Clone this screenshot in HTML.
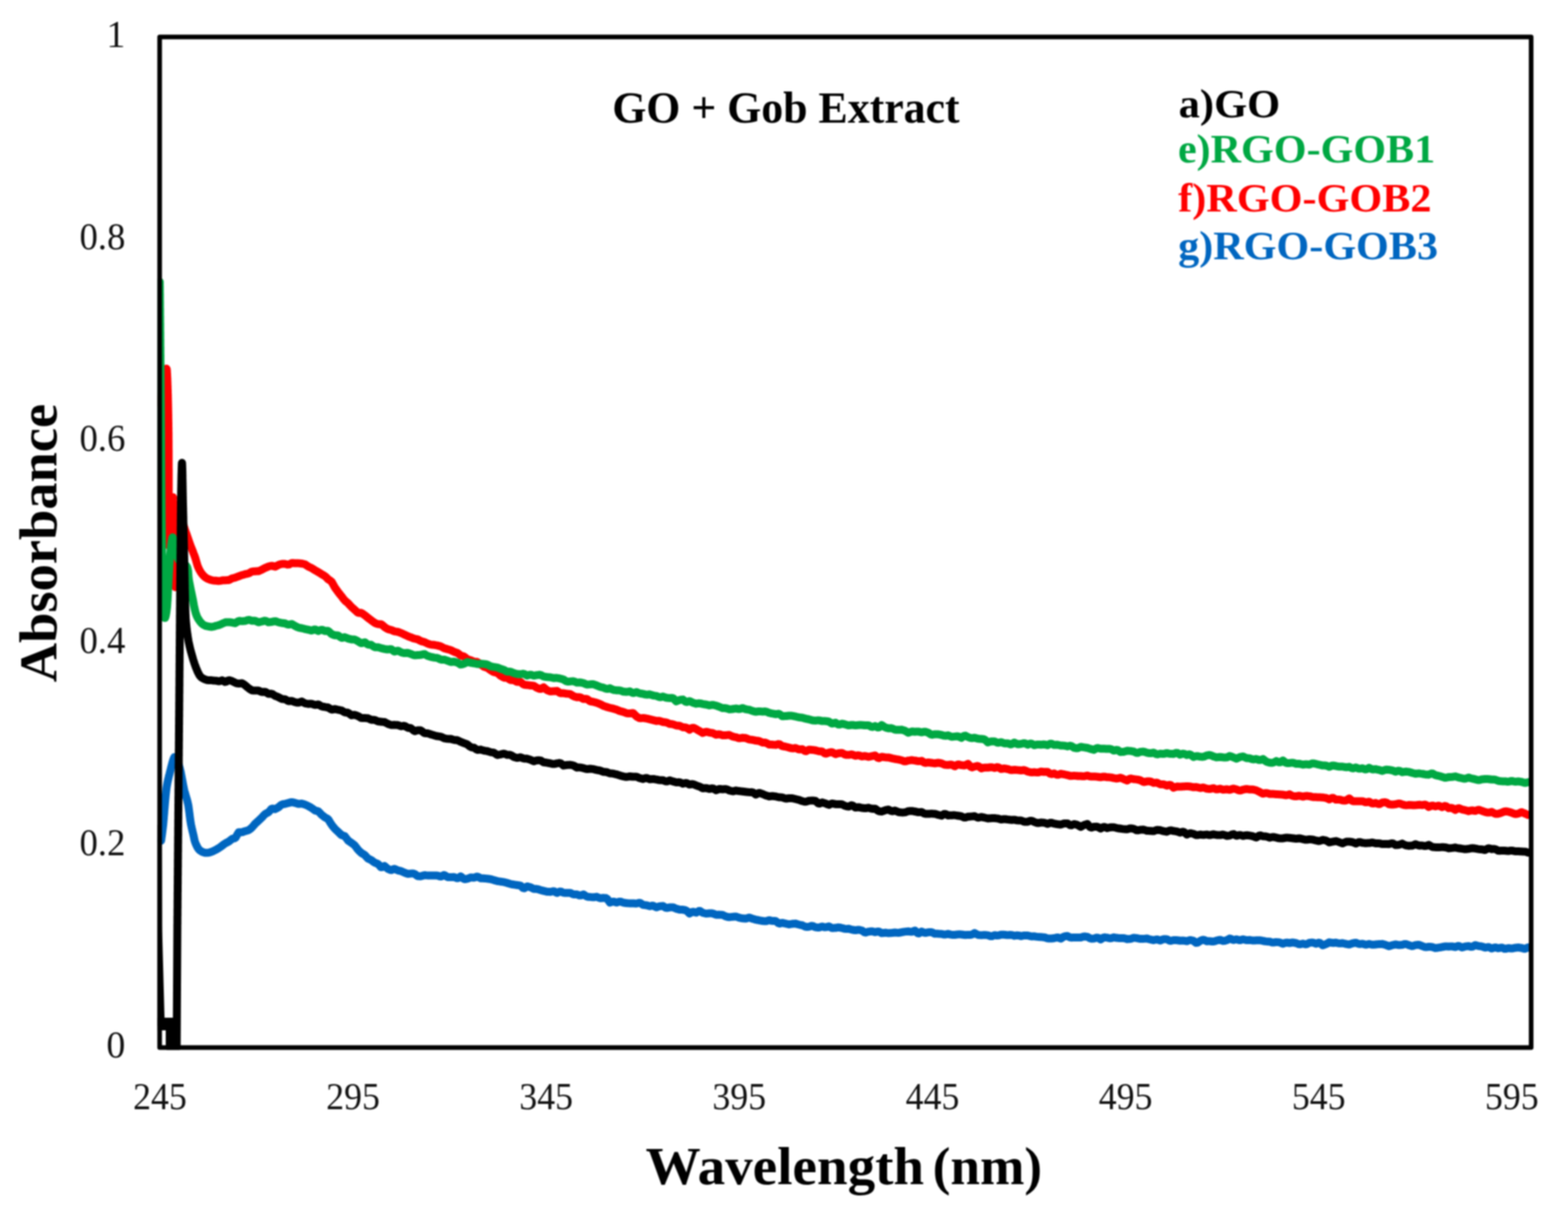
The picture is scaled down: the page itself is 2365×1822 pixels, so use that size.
<!DOCTYPE html>
<html><head><meta charset="utf-8"><title>GO + Gob Extract</title><style>html,body{margin:0;padding:0;background:#fff;}svg{display:block;filter:blur(0.9px);}</style></head><body>
<svg width="2365" height="1822" viewBox="0 0 2365 1822">
<rect width="2365" height="1822" fill="#fff"/>
<defs><clipPath id="pc"><rect x="237.7" y="40" width="2071" height="1543.5"/></clipPath></defs>
<g clip-path="url(#pc)" fill="none" stroke-width="12" stroke-linejoin="round" stroke-linecap="round">
<path d="M242.0 610.0L242.1 608.9 242.3 607.5 242.4 606.0 242.6 604.2 242.8 602.3 243.0 600.2 243.2 598.0 243.5 595.8 243.7 593.4 244.0 591.0 244.2 588.6 244.5 586.1 244.7 583.7 245.0 581.3 245.3 578.9 245.5 576.7 245.8 574.5 246.1 572.5 246.3 570.6 246.5 568.9 246.8 567.3 247.0 566.0 247.7 563.2 248.8 560.0 250.0 557.3 251.0 556.0 251.5 557.0 251.6 557.9 251.7 559.0 251.8 560.1 251.8 561.3 251.9 562.6 252.0 563.9 252.1 565.4 252.1 566.9 252.2 568.4 252.3 570.1 252.4 571.8 252.4 573.5 252.5 575.4 252.6 577.3 252.6 579.2 252.7 581.2 252.8 583.2 252.8 585.3 252.9 587.4 253.0 589.6 253.0 591.8 253.1 594.0 253.2 596.3 253.2 598.6 253.3 600.9 253.3 603.3 253.4 605.7 253.4 608.1 253.5 610.5 253.5 612.9 253.6 615.4 253.6 617.8 253.7 620.3 253.7 622.8 253.8 625.2 253.8 627.7 253.8 630.2 253.9 632.7 253.9 635.1 254.0 637.6 254.0 640.0 254.0 641.7 254.0 643.5 254.1 645.2 254.1 647.0 254.1 648.9 254.1 650.8 254.2 652.7 254.2 654.6 254.2 656.5 254.2 658.5 254.2 660.5 254.2 662.6 254.3 664.6 254.3 666.7 254.3 668.8 254.3 670.9 254.3 673.0 254.3 675.1 254.3 677.3 254.4 679.4 254.4 681.6 254.4 683.7 254.4 685.9 254.4 688.1 254.4 690.3 254.4 692.5 254.4 694.7 254.4 696.9 254.4 699.1 254.4 701.3 254.4 703.5 254.4 705.7 254.5 707.9 254.5 710.1 254.5 712.2 254.5 714.4 254.5 716.6 254.5 718.7 254.5 720.8 254.5 722.9 254.5 725.0 254.5 727.1 254.5 729.2 254.5 731.2 254.5 733.2 254.5 735.2 254.5 737.2 254.5 739.1 254.5 741.0 254.5 742.9 254.5 744.8 254.5 746.6 254.5 748.4 254.5 750.2 254.5 751.9 254.5 753.6 254.5 755.3 254.5 756.9 254.5 758.5 254.5 760.0 254.5 762.4 254.5 764.9 254.5 767.4 254.5 769.9 254.4 772.4 254.4 775.0 254.4 777.5 254.4 780.1 254.3 782.6 254.3 785.1 254.3 787.6 254.2 790.1 254.2 792.6 254.1 794.9 254.1 797.3 254.1 799.6 254.0 801.8 254.0 803.9 254.0 806.0 254.0 807.9 253.9 809.8 253.9 811.6 253.9 813.3 253.9 814.9 253.9 816.3 253.9 817.6 253.9 818.8 253.9 819.8 253.9 820.7 254.0 821.4 254.0 822.0 254.1 822.6 254.2 822.6 254.3 821.9 254.5 820.8 254.6 819.2 254.8 817.2 255.0 814.9 255.2 812.4 255.4 809.6 255.6 806.7 255.9 803.7 256.1 800.8 256.3 797.8 256.6 795.0 256.8 792.4 257.0 790.0 257.2 788.1 257.4 785.9 257.6 783.6 257.8 781.1 258.0 778.5 258.2 775.8 258.4 773.0 258.6 770.3 258.8 767.5 259.0 764.9 259.2 762.3 259.5 759.9 259.7 757.7 259.9 755.6 260.1 753.9 260.3 752.4 260.5 751.2 260.7 750.4 260.8 750.0 261.0 750.0 261.1 750.3 261.3 750.9 261.4 751.7 261.5 752.7 261.6 753.9 261.7 755.3 261.9 756.9 262.0 758.6 262.1 760.5 262.2 762.6 262.3 764.7 262.4 767.0 262.5 769.3 262.6 771.7 262.7 774.2 262.8 776.8 262.9 779.4 263.0 782.0 263.1 784.6 263.1 787.3 263.2 789.9 263.3 792.5 263.4 795.1 263.4 797.6 263.5 800.0 263.5 801.7 263.6 803.4 263.6 805.3 263.6 807.3 263.7 809.3 263.7 811.4 263.7 813.6 263.7 815.9 263.8 818.2 263.8 820.6 263.8 823.1 263.8 825.5 263.8 828.0 263.9 830.6 263.9 833.1 263.9 835.7 263.9 838.2 263.9 840.8 263.9 843.4 263.9 845.9 263.9 848.4 263.9 850.9 264.0 853.4 264.0 855.8 264.0 858.2 264.0 860.5 264.0 862.8 264.0 865.0 264.1 867.1 264.1 869.2 264.1 871.1 264.1 873.0 264.1 874.8 264.2 876.4 264.2 878.0 264.2 879.4 264.3 880.7 264.3 881.8 264.4 882.8 264.4 883.7 264.4 884.4 264.5 885.0 264.6 885.7 264.7 885.8 264.8 885.5 265.0 884.8 265.1 883.7 265.2 882.2 265.3 880.5 265.5 878.4 265.6 876.1 265.8 873.6 265.9 870.9 266.1 868.1 266.3 865.2 266.4 862.2 266.6 859.2 266.8 856.1 267.0 853.2 267.2 850.2 267.4 847.4 267.6 844.8 267.8 842.3 268.0 840.0 268.2 838.0 268.4 836.0 268.6 833.8 268.8 831.6 269.0 829.3 269.3 827.0 269.5 824.6 269.7 822.2 270.0 819.8 270.2 817.4 270.5 815.0 270.7 812.6 271.0 810.3 271.2 808.0 271.5 805.8 271.7 803.6 272.0 801.6 272.2 799.6 272.5 797.8 272.8 796.1 273.0 794.6 273.3 793.2 273.5 791.9 273.8 790.9 274.0 790.0 274.9 788.8 275.8 789.7 276.8 792.2 277.9 795.5 279.0 799.0 280.0 802.0 280.7 803.7 281.3 805.5 282.0 807.5 282.7 809.5 283.4 811.6 284.2 813.8 284.9 815.9 285.6 818.0 286.3 820.0 287.0 822.0 287.8 824.1 288.6 826.1 289.4 828.1 290.2 830.1 291.0 832.1 291.7 834.1 292.5 836.0 293.3 838.0 294.0 840.0 294.7 842.0 295.3 844.1 295.9 846.2 296.5 848.3 297.1 850.3 297.7 852.4 298.4 854.3 299.2 856.2 300.0 858.0 301.0 859.9 302.1 861.8 303.2 863.6 304.4 865.3 305.7 866.9 307.1 868.4 308.5 869.8 310.0 871.0 311.9 872.2 313.8 873.2 315.9 874.0 318.1 874.7 320.4 875.3 322.7 875.7 325.0 875.8 327.0 876.0 329.1 876.2 331.1 876.2 333.2 875.8 335.4 875.3 337.6 875.3 340.0 875.2 342.5 875.1 344.2 875.1 345.9 874.5 347.8 873.6 349.6 872.5 351.6 872.0 353.5 871.5 355.5 870.9 357.5 870.2 359.6 869.4 361.6 868.6 363.6 867.9 365.6 867.2 367.5 866.7 369.4 866.1 371.3 865.7 373.3 865.3 375.2 864.8 377.1 863.7 379.0 862.5 381.0 861.9 382.9 861.8 384.8 861.7 386.7 861.6 388.7 861.6 390.6 861.3 392.5 860.3 394.6 859.3 396.6 858.3 398.6 857.2 400.6 856.3 402.7 855.4 404.7 854.5 406.7 854.0 408.8 853.5 410.9 853.5 413.0 854.2 415.2 854.7 417.5 853.5 419.4 852.4 421.3 851.7 423.3 851.0 425.4 850.5 427.5 850.5 429.6 850.5 431.7 851.0 433.9 851.6 436.0 851.4 438.1 850.3 440.1 849.2 442.1 849.3 444.0 849.5 445.8 849.5 447.5 849.5 449.9 849.6 452.2 849.7 454.3 850.0 456.3 850.3 458.3 850.8 460.2 851.3 462.0 852.5 463.8 853.7 465.6 854.8 467.5 855.7 469.6 856.6 471.6 857.8 473.6 859.1 475.6 860.3 477.5 861.4 479.4 862.5 481.3 863.6 483.2 864.8 485.0 866.0 486.8 867.0 488.5 868.0 490.1 869.0 491.8 870.5 493.4 872.1 495.0 873.8 496.6 874.7 498.3 875.9 500.0 877.2 501.1 879.0 502.2 880.9 503.3 882.9 504.4 885.0 505.6 886.9 506.7 888.4 507.9 890.0 509.0 891.6 510.2 893.2 511.4 894.7 512.6 896.3 513.8 897.8 515.0 899.2 516.3 900.9 517.5 902.6 519.0 904.4 520.5 906.1 522.0 907.4 523.6 908.7 525.1 909.9 526.7 911.7 528.3 913.5 529.9 915.2 531.4 916.6 533.0 917.9 534.5 919.3 536.0 920.7 537.5 922.0 539.3 923.8 541.0 924.4 542.7 924.4 544.3 924.3 545.9 925.0 547.6 926.1 549.3 927.3 551.1 928.6 553.0 930.3 555.0 931.9 556.6 933.1 558.2 934.3 559.9 935.6 561.6 936.8 563.4 938.1 565.2 939.4 567.0 940.2 568.9 941.0 570.8 941.4 572.6 941.4 574.5 941.4 576.4 942.6 578.2 944.2 580.0 945.7 581.9 947.0 583.8 948.2 585.8 949.2 587.7 949.6 589.6 950.0 591.5 950.8 593.5 951.7 595.4 952.4 597.3 952.6 599.2 952.9 601.2 953.4 603.1 954.1 605.0 954.8 606.9 955.7 608.8 956.6 610.8 957.5 612.7 958.4 614.6 959.3 616.5 960.1 618.5 960.8 620.4 961.5 622.3 962.3 624.2 963.0 626.2 963.5 628.1 963.9 630.0 964.3 631.9 965.4 633.8 966.4 635.8 967.3 637.7 967.7 639.6 968.2 641.5 969.0 643.5 970.0 645.4 970.9 647.3 971.5 649.2 972.1 651.2 972.4 653.1 972.5 655.0 972.7 656.9 973.1 658.8 973.4 660.8 973.9 662.7 974.4 664.6 974.9 666.5 975.8 668.5 976.9 670.4 977.9 672.3 978.4 674.2 978.9 676.2 979.5 678.1 980.0 680.0 980.6 681.9 981.6 683.9 982.6 685.9 983.5 687.9 984.2 689.8 984.8 691.8 986.3 693.8 987.9 695.7 989.0 697.7 989.5 699.6 990.0 701.4 991.3 703.2 992.9 705.0 994.3 707.2 995.0 709.4 995.5 711.4 996.4 713.5 997.3 715.5 998.1 717.4 998.2 719.3 998.3 721.2 999.3 723.1 1000.7 725.0 1002.2 726.8 1003.4 728.5 1004.6 730.2 1005.8 731.8 1006.2 733.4 1006.7 735.0 1007.1 736.7 1008.4 738.5 1009.8 740.4 1011.1 742.5 1012.4 743.9 1013.2 745.4 1013.9 747.0 1014.2 748.6 1014.5 750.2 1015.0 751.9 1016.4 753.6 1018.0 755.4 1019.4 757.2 1020.5 759.1 1021.6 761.0 1022.2 763.0 1022.3 765.1 1022.5 767.1 1023.9 769.3 1025.3 771.5 1025.8 773.7 1025.8 776.0 1026.3 777.7 1027.4 779.4 1028.4 781.2 1028.6 783.1 1028.5 784.9 1028.4 786.9 1030.0 788.8 1031.7 790.8 1032.8 792.8 1033.0 794.8 1033.2 796.9 1033.4 798.9 1033.7 801.0 1034.0 803.1 1034.1 805.2 1034.4 807.3 1035.8 809.4 1037.2 811.5 1038.2 813.6 1039.0 815.7 1039.1 817.8 1037.8 819.9 1036.6 822.0 1038.3 824.0 1040.2 826.0 1041.4 828.0 1042.1 830.0 1042.8 832.0 1042.7 834.0 1042.6 836.0 1042.5 838.0 1042.3 840.0 1042.1 842.0 1043.4 844.0 1044.8 846.0 1045.5 848.0 1045.5 850.0 1045.6 852.0 1045.9 854.0 1046.2 856.0 1046.4 858.0 1046.6 860.0 1046.9 862.0 1048.1 864.0 1049.4 866.0 1050.4 868.0 1051.0 870.0 1051.7 872.0 1051.6 874.0 1051.6 876.0 1052.1 877.9 1053.1 879.8 1054.2 881.8 1054.2 883.7 1054.1 885.6 1054.4 887.5 1055.9 889.5 1057.3 891.4 1058.0 893.3 1058.3 895.2 1058.7 897.2 1059.2 899.1 1059.8 901.0 1060.4 902.9 1061.1 904.8 1061.8 906.8 1062.8 908.7 1063.9 910.6 1064.8 912.5 1065.4 914.5 1066.1 916.4 1066.6 918.3 1067.2 920.2 1067.7 922.2 1068.2 924.1 1068.6 926.0 1069.1 927.9 1069.7 929.8 1070.3 931.8 1071.1 933.7 1072.0 935.6 1072.7 937.5 1073.1 939.5 1073.6 941.4 1074.2 943.3 1075.0 945.2 1075.8 947.2 1075.9 949.1 1076.1 951.0 1076.0 952.9 1075.7 954.8 1075.4 956.8 1077.3 958.7 1079.3 960.6 1081.0 962.5 1082.1 964.5 1083.1 966.4 1083.3 968.3 1083.1 970.2 1082.9 972.2 1083.2 974.1 1083.5 976.0 1083.9 978.0 1084.4 980.0 1084.9 982.0 1085.4 984.0 1085.9 986.0 1086.4 988.0 1086.9 990.0 1087.4 992.0 1087.3 994.0 1087.3 996.0 1087.6 998.0 1088.3 1000.0 1089.0 1002.0 1089.2 1004.0 1089.4 1006.0 1090.0 1008.0 1090.9 1010.0 1091.9 1012.0 1092.1 1014.0 1092.2 1016.0 1092.7 1018.0 1093.5 1020.0 1094.3 1022.0 1094.4 1024.0 1094.5 1026.0 1095.1 1028.0 1096.0 1030.0 1097.0 1032.0 1097.1 1034.0 1097.2 1036.0 1097.9 1038.0 1099.2 1040.0 1100.6 1042.0 1099.2 1044.0 1097.9 1046.0 1097.7 1048.0 1098.7 1050.0 1099.7 1052.0 1100.9 1054.0 1102.0 1056.0 1103.2 1058.0 1104.3 1060.0 1105.5 1062.0 1104.7 1064.0 1103.9 1066.0 1103.8 1068.0 1104.3 1070.0 1104.9 1072.0 1105.2 1074.0 1105.4 1076.0 1106.1 1078.0 1107.2 1080.0 1108.2 1082.0 1107.8 1084.0 1107.5 1086.0 1107.7 1088.0 1108.4 1090.0 1109.1 1092.0 1109.0 1094.0 1108.9 1096.0 1108.8 1098.0 1108.6 1100.0 1108.5 1102.0 1109.5 1104.0 1110.5 1106.0 1111.2 1108.0 1111.6 1110.0 1111.9 1112.0 1112.6 1114.0 1113.3 1116.0 1113.4 1118.0 1113.1 1120.0 1112.8 1122.0 1113.0 1124.0 1113.1 1126.0 1113.6 1128.0 1114.5 1130.0 1115.4 1132.0 1115.6 1134.0 1115.8 1136.0 1116.2 1138.0 1116.6 1140.0 1117.0 1142.0 1117.2 1144.0 1117.5 1146.0 1118.1 1148.0 1119.0 1150.0 1120.0 1152.0 1120.1 1154.0 1120.1 1156.0 1120.7 1158.0 1121.8 1160.0 1122.9 1162.0 1123.0 1164.0 1123.0 1166.0 1123.2 1168.0 1123.4 1170.0 1123.6 1172.0 1122.9 1174.0 1122.3 1176.0 1122.7 1178.0 1124.1 1180.0 1125.4 1182.0 1125.7 1184.0 1126.0 1186.0 1126.5 1188.0 1127.0 1190.0 1127.6 1192.0 1128.1 1194.0 1128.6 1196.0 1128.7 1198.0 1128.5 1200.0 1128.2 1202.0 1129.1 1204.0 1130.0 1206.0 1130.4 1208.0 1130.1 1210.0 1129.9 1212.0 1131.3 1214.0 1132.8 1216.0 1132.9 1218.0 1131.8 1220.0 1130.7 1222.0 1130.8 1224.0 1130.9 1226.0 1131.1 1228.0 1131.4 1230.0 1131.7 1232.0 1132.3 1234.0 1132.8 1236.1 1133.2 1238.1 1133.3 1240.1 1133.5 1242.1 1135.0 1244.2 1136.6 1246.2 1136.7 1248.2 1135.9 1250.2 1135.1 1252.3 1134.8 1254.3 1134.5 1256.3 1135.2 1258.3 1136.4 1260.3 1137.4 1262.3 1136.8 1264.3 1136.2 1266.3 1135.9 1268.2 1135.8 1270.2 1135.8 1272.1 1136.8 1274.1 1137.9 1276.0 1138.4 1278.1 1138.5 1280.1 1138.5 1282.2 1138.2 1284.2 1137.8 1286.2 1138.3 1288.2 1139.2 1290.2 1140.0 1292.1 1139.6 1294.1 1139.2 1296.1 1139.4 1298.0 1140.2 1300.0 1141.0 1301.9 1140.6 1303.9 1140.3 1305.9 1140.4 1307.8 1141.0 1309.8 1141.6 1311.8 1141.2 1313.8 1140.7 1315.8 1140.3 1317.9 1139.9 1319.9 1139.5 1322.0 1141.3 1323.9 1143.0 1325.9 1143.5 1327.8 1142.5 1329.8 1141.4 1331.7 1141.7 1333.7 1142.1 1335.7 1142.3 1337.7 1142.4 1339.7 1142.4 1341.7 1142.9 1343.7 1143.4 1345.7 1143.9 1347.8 1144.3 1349.8 1144.8 1351.8 1145.1 1353.8 1145.4 1355.9 1145.7 1357.9 1146.2 1359.9 1146.7 1361.9 1147.5 1364.0 1148.2 1366.0 1148.3 1368.0 1147.7 1370.0 1147.1 1372.0 1146.9 1374.0 1146.6 1376.0 1146.6 1378.0 1146.9 1380.0 1147.1 1382.0 1147.5 1384.0 1148.0 1386.0 1148.1 1388.0 1147.9 1390.0 1147.6 1392.0 1148.9 1394.0 1150.2 1396.0 1150.7 1398.0 1150.3 1400.0 1149.9 1402.0 1150.2 1404.0 1150.5 1406.0 1150.8 1408.0 1151.1 1410.0 1151.4 1412.0 1151.0 1414.0 1150.6 1416.0 1150.6 1418.0 1151.0 1420.0 1151.4 1422.0 1152.2 1424.0 1153.1 1426.0 1153.6 1428.0 1153.7 1430.0 1153.8 1432.0 1153.5 1434.0 1153.2 1436.0 1153.6 1438.0 1154.7 1440.0 1155.8 1442.0 1154.6 1444.0 1153.4 1446.0 1153.0 1448.0 1153.6 1450.0 1154.1 1452.0 1154.3 1454.0 1154.5 1456.0 1154.1 1458.0 1153.1 1460.0 1152.1 1462.0 1154.3 1464.0 1156.5 1466.0 1157.4 1468.0 1156.8 1470.0 1156.3 1472.0 1155.8 1474.0 1155.3 1476.0 1155.8 1478.0 1157.3 1480.0 1158.9 1482.0 1158.4 1484.0 1157.9 1486.0 1157.7 1488.0 1157.7 1490.0 1157.8 1492.0 1157.5 1494.0 1157.2 1496.0 1157.3 1498.0 1157.8 1500.0 1158.3 1502.0 1157.7 1504.0 1157.1 1506.0 1157.5 1508.0 1158.6 1510.0 1159.8 1512.0 1159.5 1514.0 1159.1 1516.0 1159.2 1518.0 1159.6 1520.0 1160.0 1522.0 1160.6 1524.0 1161.3 1526.0 1161.5 1528.0 1161.3 1530.0 1161.1 1532.0 1161.2 1534.0 1161.4 1536.0 1161.6 1538.0 1161.8 1540.0 1162.0 1542.0 1161.8 1544.0 1161.5 1546.0 1161.9 1548.0 1162.8 1550.0 1163.7 1552.0 1164.2 1554.0 1164.7 1556.0 1164.9 1558.0 1164.8 1560.0 1164.6 1562.0 1164.9 1564.0 1165.1 1566.0 1165.0 1568.0 1164.4 1570.0 1163.8 1572.0 1164.0 1574.0 1164.2 1576.0 1164.3 1578.0 1164.3 1580.0 1164.2 1582.0 1165.6 1584.0 1167.0 1586.0 1167.5 1588.0 1167.1 1590.0 1166.6 1592.0 1167.6 1594.0 1168.5 1596.0 1168.6 1598.0 1167.9 1600.0 1167.1 1602.0 1167.5 1604.0 1167.8 1606.0 1168.2 1608.0 1168.7 1610.0 1169.1 1612.0 1169.6 1614.0 1170.2 1616.0 1170.3 1618.0 1170.1 1620.0 1169.9 1622.0 1170.1 1624.0 1170.3 1626.0 1170.5 1628.0 1170.5 1630.0 1170.5 1632.0 1170.7 1634.0 1170.9 1636.0 1170.7 1638.0 1170.2 1640.0 1169.8 1642.0 1170.4 1644.0 1171.0 1646.0 1171.2 1648.0 1171.2 1650.0 1171.2 1652.0 1171.3 1654.0 1171.4 1656.0 1171.7 1658.0 1172.0 1660.0 1172.3 1662.0 1171.9 1664.0 1171.5 1666.0 1171.5 1668.0 1171.9 1670.0 1172.3 1672.0 1172.3 1674.0 1172.4 1676.0 1172.6 1678.0 1173.1 1680.0 1173.6 1682.0 1173.9 1684.0 1174.3 1686.0 1174.1 1688.0 1173.5 1690.0 1173.0 1692.0 1173.8 1694.0 1174.7 1696.0 1175.6 1698.0 1176.4 1700.0 1177.3 1702.0 1175.9 1704.0 1174.6 1706.0 1174.2 1708.0 1174.7 1710.0 1175.2 1712.0 1175.4 1714.0 1175.6 1716.0 1175.9 1718.0 1176.4 1720.0 1176.9 1722.0 1178.0 1724.0 1179.1 1726.0 1179.5 1728.0 1179.0 1730.0 1178.6 1732.0 1178.6 1734.0 1178.6 1736.0 1179.0 1738.0 1179.9 1740.0 1180.8 1742.0 1180.6 1744.0 1180.4 1746.0 1180.9 1748.0 1182.0 1750.0 1183.0 1752.0 1183.0 1754.0 1183.0 1756.0 1183.3 1758.0 1184.1 1760.0 1184.9 1762.0 1184.3 1764.0 1183.7 1766.0 1184.3 1768.0 1186.2 1770.0 1188.1 1772.0 1187.4 1774.0 1186.6 1776.0 1186.3 1778.0 1186.4 1780.0 1186.6 1782.0 1186.5 1784.1 1186.3 1786.1 1186.2 1788.1 1186.1 1790.1 1186.0 1792.1 1186.1 1794.2 1186.2 1796.2 1186.5 1798.2 1187.0 1800.2 1187.4 1802.2 1187.2 1804.2 1187.1 1806.2 1187.4 1808.2 1188.0 1810.2 1188.5 1812.2 1188.2 1814.2 1187.8 1816.1 1188.1 1818.1 1188.8 1820.1 1189.6 1822.0 1189.8 1824.1 1190.1 1826.2 1189.8 1828.3 1189.2 1830.3 1188.8 1832.4 1189.7 1834.4 1190.6 1836.4 1190.5 1838.5 1189.9 1840.5 1189.6 1842.5 1190.3 1844.5 1190.9 1846.5 1190.9 1848.5 1190.6 1850.5 1190.5 1852.5 1190.9 1854.6 1191.3 1856.6 1190.7 1858.6 1189.8 1860.7 1189.4 1862.7 1190.0 1864.8 1190.5 1866.9 1191.4 1869.0 1192.3 1870.9 1192.3 1872.9 1191.7 1874.9 1191.0 1876.8 1190.6 1878.8 1190.2 1880.8 1190.1 1882.8 1190.4 1884.8 1190.7 1886.8 1190.8 1888.8 1190.8 1890.8 1191.0 1892.8 1191.5 1894.8 1192.0 1896.8 1193.0 1898.9 1194.0 1900.9 1195.1 1902.9 1196.1 1904.9 1197.1 1906.9 1196.7 1909.0 1196.2 1911.0 1196.3 1913.0 1196.8 1915.0 1197.4 1917.0 1197.5 1919.0 1197.5 1921.0 1197.6 1923.0 1197.8 1925.0 1198.1 1927.0 1198.1 1929.0 1198.2 1931.0 1198.3 1933.0 1198.5 1935.0 1198.6 1937.0 1199.0 1939.0 1199.4 1941.0 1199.3 1943.0 1198.7 1945.0 1198.1 1947.0 1199.2 1949.0 1200.3 1951.0 1200.8 1953.0 1200.9 1955.0 1201.0 1957.0 1200.6 1959.0 1200.3 1961.0 1200.4 1963.0 1201.0 1965.0 1201.6 1967.0 1201.1 1969.0 1200.6 1971.0 1200.4 1973.0 1200.7 1975.0 1200.9 1977.0 1201.4 1979.0 1201.9 1981.0 1202.2 1983.0 1202.3 1985.0 1202.3 1987.0 1202.4 1989.0 1202.5 1991.0 1202.6 1993.0 1202.7 1995.0 1202.8 1997.0 1203.1 1999.0 1203.4 2001.0 1203.9 2003.0 1204.8 2005.0 1205.7 2007.0 1204.6 2009.0 1203.5 2011.0 1203.6 2013.0 1204.8 2015.0 1206.0 2017.0 1205.9 2019.0 1205.9 2021.0 1206.1 2023.0 1206.7 2025.0 1207.3 2027.0 1207.4 2029.0 1207.5 2031.0 1206.9 2033.0 1205.6 2035.0 1204.3 2037.0 1205.9 2039.0 1207.6 2041.0 1208.4 2043.0 1208.5 2045.0 1208.5 2047.0 1208.5 2049.0 1208.5 2051.0 1208.5 2053.0 1208.5 2055.0 1208.4 2057.0 1209.1 2059.0 1209.9 2061.0 1210.0 2063.0 1209.6 2065.0 1209.2 2067.0 1210.4 2069.0 1211.5 2071.0 1211.9 2073.0 1211.5 2075.0 1211.1 2077.0 1212.0 2079.0 1212.8 2081.0 1212.7 2083.0 1211.6 2085.0 1210.5 2087.0 1210.2 2089.0 1210.0 2091.0 1210.5 2093.0 1211.7 2095.0 1213.0 2097.0 1213.2 2099.0 1213.5 2101.0 1213.5 2103.0 1213.3 2105.0 1213.1 2107.0 1212.5 2109.0 1212.0 2111.0 1212.0 2113.0 1212.6 2115.0 1213.3 2117.0 1213.9 2119.0 1214.4 2121.0 1214.6 2123.0 1214.4 2125.0 1214.1 2127.0 1214.2 2129.0 1214.3 2131.0 1214.4 2133.0 1214.4 2135.0 1214.4 2137.0 1214.2 2139.0 1213.9 2141.0 1213.8 2143.0 1214.1 2145.0 1214.3 2147.0 1213.9 2149.0 1213.6 2151.0 1214.2 2153.0 1215.6 2155.0 1217.1 2157.0 1216.2 2159.0 1215.3 2161.0 1215.1 2163.0 1215.7 2165.0 1216.2 2167.0 1215.7 2169.0 1215.2 2171.0 1215.5 2173.0 1216.5 2175.0 1217.5 2177.0 1216.5 2179.0 1215.6 2181.0 1215.9 2183.0 1217.4 2185.0 1218.9 2187.0 1218.7 2189.0 1218.6 2191.0 1219.1 2193.0 1220.4 2195.0 1221.6 2197.0 1220.4 2199.0 1219.2 2201.0 1219.1 2203.0 1220.0 2205.0 1220.9 2207.0 1221.3 2209.0 1221.7 2211.0 1222.2 2213.0 1222.8 2215.0 1223.4 2217.0 1222.9 2219.0 1222.4 2221.0 1222.3 2223.0 1222.8 2225.1 1223.1 2227.1 1222.3 2229.2 1221.5 2231.3 1221.6 2233.4 1222.4 2235.5 1223.1 2237.5 1223.9 2239.6 1224.6 2241.7 1225.1 2243.8 1225.5 2245.8 1225.6 2247.9 1225.1 2249.9 1224.6 2252.0 1225.7 2254.0 1226.9 2255.9 1227.5 2257.9 1227.4 2259.8 1227.4 2261.7 1226.8 2263.6 1226.2 2265.4 1225.5 2267.2 1224.7 2269.0 1223.9 2271.4 1223.7 2273.9 1224.2 2276.3 1224.7 2278.8 1225.4 2281.3 1226.3 2283.7 1227.4 2286.0 1227.8 2288.4 1227.5 2290.6 1227.0 2292.8 1225.9 2294.9 1224.9 2296.9 1225.7 2298.8 1226.5 2300.5 1227.3 2302.1 1228.0 2303.6 1228.6 2304.9 1229.2 2306.0 1228.8" stroke="#ff0000"/>
<path d="M243.0 1268.0L243.2 1266.8 243.4 1265.3 243.6 1263.6 243.9 1261.7 244.2 1259.6 244.5 1257.4 244.8 1255.0 245.1 1252.6 245.4 1250.1 245.7 1247.5 246.0 1245.0 246.2 1243.5 246.3 1241.9 246.5 1240.1 246.6 1238.3 246.8 1236.4 247.0 1234.4 247.1 1232.3 247.3 1230.2 247.5 1228.0 247.7 1225.8 247.8 1223.6 248.0 1221.3 248.2 1219.0 248.4 1216.7 248.6 1214.3 248.8 1212.0 249.0 1209.8 249.2 1207.5 249.4 1205.3 249.6 1203.1 249.8 1201.0 250.0 1199.0 250.2 1197.0 250.4 1195.1 250.6 1193.3 250.8 1191.6 251.0 1190.0 251.3 1187.6 251.7 1185.3 252.1 1183.1 252.5 1180.9 252.9 1178.8 253.4 1176.7 253.8 1174.7 254.3 1172.8 254.7 1170.9 255.2 1169.1 255.7 1167.3 256.1 1165.5 256.6 1163.7 257.0 1162.0 257.6 1159.6 258.2 1157.1 258.9 1154.7 259.5 1152.3 260.1 1150.0 260.7 1147.9 261.3 1146.0 261.9 1144.3 262.5 1143.0 263.0 1142.0 265.1 1142.5 267.0 1146.0 267.6 1147.4 268.2 1149.0 268.8 1150.8 269.5 1152.8 270.1 1155.0 270.8 1157.2 271.4 1159.6 272.0 1162.0 272.4 1163.6 272.8 1165.4 273.1 1167.3 273.5 1169.3 273.9 1171.3 274.3 1173.4 274.7 1175.6 275.1 1177.7 275.5 1179.9 275.9 1182.0 276.3 1184.1 276.7 1186.2 277.1 1188.1 277.5 1190.0 278.0 1192.3 278.6 1194.4 279.2 1196.5 279.8 1198.6 280.4 1200.6 281.0 1202.6 281.6 1204.6 282.2 1206.6 282.7 1208.6 283.2 1210.8 283.7 1213.0 284.1 1215.0 284.4 1217.0 284.7 1219.1 285.0 1221.3 285.3 1223.5 285.6 1225.7 285.9 1227.9 286.1 1230.1 286.4 1232.2 286.7 1234.3 286.9 1236.3 287.2 1238.2 287.5 1240.0 287.9 1242.4 288.3 1244.6 288.8 1246.7 289.2 1248.7 289.7 1250.7 290.1 1252.6 290.5 1254.4 291.0 1256.2 291.4 1258.0 291.9 1260.2 292.4 1262.4 292.8 1264.4 293.2 1266.4 293.7 1268.3 294.3 1270.2 295.0 1272.0 295.9 1274.1 296.9 1276.2 297.9 1278.2 299.1 1280.0 300.4 1281.7 302.0 1283.0 303.8 1284.1 305.7 1285.1 307.8 1285.8 310.1 1286.3 312.5 1286.3 315.0 1286.0 316.5 1285.6 318.2 1285.0 320.0 1284.4 321.8 1283.6 323.7 1282.7 325.7 1281.7 327.6 1280.5 329.6 1279.3 331.7 1278.0 333.6 1276.6 335.6 1275.1 337.5 1273.7 339.1 1272.5 340.7 1271.5 342.4 1270.7 344.0 1269.9 345.6 1268.9 347.3 1267.6 348.9 1266.2 350.5 1265.1 352.1 1264.7 353.8 1264.3 355.3 1263.4 356.9 1260.6 358.5 1257.9 360.0 1255.3 361.9 1255.2 363.8 1255.3 365.6 1255.1 367.5 1254.3 369.3 1253.7 371.0 1253.2 372.8 1252.7 374.6 1252.2 376.4 1251.1 378.2 1249.7 380.0 1248.1 381.5 1246.4 383.1 1244.6 384.6 1242.6 386.2 1241.2 387.7 1239.9 389.2 1238.5 390.8 1237.1 392.3 1235.6 393.8 1234.2 395.4 1232.7 396.9 1230.9 398.5 1229.2 400.0 1227.7 401.8 1226.7 403.7 1225.8 405.6 1224.5 407.5 1222.2 409.4 1220.0 411.2 1219.5 413.1 1219.9 414.9 1220.4 416.7 1219.5 418.4 1218.5 420.0 1217.6 422.3 1215.6 424.4 1213.8 426.5 1213.0 428.4 1212.7 430.5 1212.4 432.6 1211.7 435.0 1211.1 436.8 1210.6 438.7 1210.1 440.6 1210.0 442.6 1210.4 444.7 1210.9 446.8 1211.5 448.8 1212.2 450.9 1212.5 453.0 1212.2 455.0 1212.1 457.0 1212.6 459.0 1213.2 461.1 1214.0 463.1 1214.9 465.2 1215.9 467.2 1217.0 469.2 1218.2 471.2 1219.5 473.1 1220.9 475.0 1222.4 476.7 1222.8 478.4 1223.2 480.1 1223.7 481.8 1225.4 483.4 1227.1 485.0 1228.8 486.6 1230.1 488.2 1231.3 489.7 1232.6 491.1 1233.4 492.5 1234.1 494.1 1235.0 495.5 1236.3 496.7 1238.3 497.9 1240.3 499.1 1242.3 500.4 1244.3 501.8 1246.1 503.3 1247.9 505.0 1249.9 506.2 1251.1 507.5 1252.3 508.9 1253.6 510.4 1255.0 511.9 1256.5 513.5 1258.0 515.1 1259.5 516.7 1260.0 518.4 1260.6 520.1 1261.2 521.8 1263.5 523.5 1265.7 525.1 1267.8 526.8 1269.0 528.4 1270.1 530.0 1271.3 531.6 1272.4 533.1 1273.5 534.7 1274.7 536.2 1276.6 537.8 1278.7 539.4 1280.9 540.9 1282.6 542.5 1284.1 544.1 1285.6 545.6 1286.9 547.2 1287.8 548.8 1288.7 550.3 1289.7 551.9 1291.5 553.4 1293.2 555.0 1294.9 556.8 1295.8 558.6 1296.6 560.4 1297.5 562.1 1298.9 563.9 1300.3 565.7 1301.3 567.5 1302.0 569.3 1302.6 571.1 1304.1 572.9 1306.1 574.6 1308.1 576.4 1307.9 578.2 1307.0 580.0 1306.1 582.1 1308.0 584.2 1309.8 586.2 1311.0 588.3 1311.8 590.4 1312.3 592.5 1311.3 594.6 1310.4 596.7 1311.1 598.8 1312.2 600.8 1313.0 602.9 1313.4 605.0 1313.9 607.1 1314.8 609.2 1315.8 611.2 1316.6 613.3 1317.4 615.4 1318.0 617.5 1317.8 619.6 1317.6 621.7 1317.6 623.8 1317.6 625.8 1318.3 627.9 1319.9 630.0 1321.5 632.1 1321.6 634.2 1321.7 636.2 1321.2 638.3 1320.5 640.4 1319.9 642.5 1320.2 644.6 1320.4 646.7 1320.4 648.8 1320.4 650.8 1320.4 652.9 1320.5 655.0 1320.6 657.1 1320.6 659.2 1320.6 661.2 1321.0 663.3 1321.8 665.4 1322.1 667.5 1320.9 669.6 1319.7 671.7 1320.7 673.8 1322.2 675.8 1323.1 677.9 1323.0 680.0 1322.9 682.1 1322.9 684.2 1322.8 686.4 1323.4 688.5 1324.4 690.7 1324.6 692.8 1323.2 694.9 1321.8 697.0 1323.6 699.1 1325.3 701.1 1326.0 703.1 1325.7 705.0 1325.4 707.2 1324.6 709.4 1323.6 711.4 1323.5 713.5 1323.7 715.5 1323.7 717.4 1322.9 719.3 1322.2 721.2 1322.6 723.1 1323.6 725.0 1324.8 727.0 1324.7 728.9 1324.8 730.7 1325.0 732.5 1325.1 734.3 1325.3 736.2 1325.5 738.2 1325.8 740.2 1326.1 742.5 1326.8 744.4 1327.3 746.4 1327.9 748.6 1328.5 750.9 1329.1 753.2 1329.4 755.6 1329.8 757.9 1330.1 760.1 1330.4 762.2 1331.0 764.2 1331.6 766.0 1332.1 767.5 1332.5 769.8 1333.2 771.7 1333.7 773.7 1334.0 776.0 1334.4 777.2 1334.6 778.6 1334.8 780.1 1335.0 781.7 1335.2 783.3 1335.4 785.1 1335.8 787.0 1337.5 788.9 1339.4 790.9 1339.7 793.0 1338.3 795.1 1336.9 797.3 1337.5 799.5 1338.1 801.8 1339.1 804.0 1340.3 806.3 1340.8 808.6 1340.8 810.8 1341.1 813.1 1341.8 815.3 1342.5 817.6 1343.1 819.7 1343.6 821.9 1344.2 824.0 1344.7 826.0 1345.0 828.0 1345.1 830.0 1345.2 832.0 1344.7 834.0 1344.2 836.0 1344.5 838.0 1345.7 840.0 1346.8 842.0 1345.8 844.0 1344.8 846.0 1344.7 848.0 1345.7 850.0 1346.6 852.0 1346.7 854.0 1346.7 856.0 1346.8 858.0 1346.8 860.0 1346.7 862.0 1347.7 864.0 1348.7 866.0 1349.1 868.0 1349.0 870.0 1348.9 872.0 1349.8 874.0 1350.6 876.0 1350.6 878.0 1349.8 880.0 1349.0 882.0 1350.3 884.0 1351.7 886.0 1352.5 888.0 1352.7 890.0 1352.9 892.0 1353.1 894.0 1353.3 896.0 1353.2 898.0 1352.9 900.0 1352.6 902.0 1353.5 904.0 1354.4 906.0 1354.7 908.0 1354.5 910.0 1354.3 912.0 1354.5 914.0 1354.6 916.0 1356.0 918.0 1358.7 920.0 1361.4 922.0 1360.7 924.0 1360.0 926.0 1360.0 928.0 1360.7 930.0 1361.3 932.0 1360.6 934.0 1359.9 936.0 1359.9 938.0 1360.7 940.0 1361.4 942.0 1361.7 944.0 1362.0 946.0 1362.2 948.0 1362.4 950.0 1362.6 952.0 1362.5 954.0 1362.5 956.0 1362.6 958.0 1362.7 960.0 1362.8 962.0 1362.3 964.0 1361.7 966.0 1362.1 968.0 1363.5 970.0 1364.9 972.0 1365.1 974.0 1365.3 976.0 1365.6 978.0 1366.2 980.0 1366.7 982.0 1366.4 984.0 1366.0 986.0 1366.4 988.0 1367.5 990.0 1368.6 992.0 1367.9 994.0 1367.2 996.0 1366.8 998.0 1366.7 1000.0 1366.5 1002.0 1367.8 1004.0 1369.0 1006.0 1369.4 1008.0 1369.0 1010.0 1368.6 1012.0 1368.5 1014.0 1368.5 1016.0 1368.8 1018.0 1369.7 1020.0 1370.6 1022.0 1371.1 1024.0 1371.7 1026.0 1372.0 1028.0 1372.0 1030.0 1372.1 1032.0 1372.5 1034.0 1372.9 1036.0 1374.0 1038.0 1375.9 1040.0 1377.8 1042.0 1376.7 1044.0 1375.5 1046.0 1375.3 1048.0 1375.9 1050.0 1376.5 1052.0 1375.3 1054.0 1374.1 1056.0 1374.1 1058.0 1375.5 1060.0 1376.8 1062.0 1377.3 1064.0 1377.8 1066.0 1377.9 1068.0 1377.7 1070.0 1377.5 1072.0 1377.6 1074.0 1377.6 1076.0 1378.1 1078.0 1378.9 1080.0 1379.7 1082.0 1379.7 1084.0 1379.6 1086.0 1379.7 1088.0 1379.8 1090.0 1379.9 1092.0 1381.0 1094.0 1382.0 1096.0 1382.6 1098.0 1383.0 1100.0 1383.3 1102.0 1383.1 1104.0 1382.9 1106.0 1382.7 1108.0 1382.6 1110.0 1382.5 1112.0 1383.2 1114.0 1383.9 1116.0 1384.4 1118.0 1384.8 1120.0 1385.2 1122.0 1385.3 1124.0 1385.5 1126.0 1385.2 1128.0 1384.6 1130.0 1383.9 1132.0 1384.6 1134.0 1385.4 1136.0 1386.0 1138.0 1386.6 1140.0 1387.1 1142.0 1387.5 1144.0 1387.9 1146.0 1388.3 1148.0 1388.7 1150.0 1389.1 1152.0 1389.2 1154.0 1389.4 1156.0 1389.2 1158.0 1388.6 1160.0 1388.0 1162.0 1388.4 1164.0 1388.9 1166.0 1389.1 1168.0 1389.1 1170.0 1389.2 1172.0 1390.7 1174.0 1392.3 1176.0 1392.9 1178.0 1392.4 1180.0 1392.0 1182.0 1392.4 1184.0 1392.8 1186.0 1393.3 1188.0 1393.7 1190.0 1394.2 1192.0 1393.9 1194.0 1393.6 1196.0 1393.3 1198.0 1393.2 1200.0 1393.1 1202.0 1393.7 1204.0 1394.3 1206.0 1394.8 1208.0 1395.2 1210.0 1395.5 1212.0 1396.5 1214.0 1397.5 1216.0 1397.9 1218.0 1397.9 1220.0 1397.8 1222.0 1397.2 1224.0 1396.5 1226.0 1396.7 1228.0 1397.7 1230.0 1398.6 1232.0 1398.8 1234.0 1399.0 1236.1 1398.7 1238.1 1398.1 1240.1 1397.5 1242.1 1398.1 1244.2 1398.6 1246.2 1398.4 1248.2 1397.8 1250.2 1397.3 1252.3 1398.4 1254.3 1399.5 1256.3 1399.8 1258.3 1399.6 1260.3 1399.5 1262.3 1399.1 1264.3 1398.8 1266.3 1398.9 1268.2 1399.4 1270.2 1399.8 1272.1 1400.4 1274.1 1400.9 1276.0 1401.1 1278.1 1400.9 1280.1 1400.8 1282.2 1401.4 1284.2 1402.0 1286.2 1402.5 1288.2 1402.8 1290.2 1403.1 1292.1 1402.8 1294.1 1402.4 1296.1 1402.5 1298.0 1403.0 1300.0 1403.5 1301.9 1404.8 1303.9 1406.1 1305.9 1406.5 1307.8 1405.9 1309.8 1405.2 1311.8 1405.0 1313.8 1404.7 1315.8 1404.8 1317.9 1405.4 1319.9 1405.9 1322.0 1405.5 1323.9 1404.9 1325.9 1405.2 1327.8 1406.3 1329.8 1407.4 1331.7 1407.2 1333.7 1406.9 1335.7 1406.8 1337.7 1407.1 1339.7 1407.4 1341.7 1407.3 1343.7 1407.2 1345.7 1407.1 1347.8 1406.8 1349.8 1406.5 1351.8 1406.7 1353.8 1406.9 1355.9 1406.9 1357.9 1406.5 1359.9 1406.1 1361.9 1405.7 1364.0 1405.4 1366.0 1405.1 1368.0 1404.9 1370.0 1404.8 1372.0 1405.1 1374.0 1405.4 1376.0 1405.2 1378.0 1404.4 1380.0 1403.6 1382.0 1405.6 1384.0 1407.6 1386.0 1407.9 1388.0 1406.5 1390.0 1405.1 1392.0 1405.9 1394.0 1406.8 1396.0 1407.0 1398.0 1406.6 1400.0 1406.2 1402.0 1406.0 1404.0 1405.9 1406.0 1406.3 1408.0 1407.3 1410.0 1408.3 1412.0 1408.3 1414.0 1408.3 1416.0 1408.4 1418.0 1408.6 1420.0 1408.7 1422.0 1409.1 1424.0 1409.5 1426.0 1409.5 1428.0 1409.0 1430.0 1408.6 1432.0 1409.1 1434.0 1409.6 1436.0 1409.9 1438.0 1410.0 1440.0 1410.1 1442.0 1409.7 1444.0 1409.4 1446.0 1409.3 1448.0 1409.3 1450.0 1409.4 1452.0 1409.7 1454.0 1410.1 1456.0 1410.2 1458.0 1410.1 1460.0 1409.9 1462.0 1409.9 1464.0 1410.0 1466.0 1409.5 1468.0 1408.4 1470.0 1407.3 1472.0 1408.5 1474.0 1409.6 1476.0 1410.2 1478.0 1410.4 1480.0 1410.6 1482.0 1410.4 1484.0 1410.2 1486.0 1410.2 1488.0 1410.4 1490.0 1410.6 1492.0 1411.4 1494.0 1412.1 1496.0 1412.1 1498.0 1411.3 1500.0 1410.5 1502.0 1410.8 1504.0 1411.1 1506.0 1410.9 1508.0 1410.3 1510.0 1409.7 1512.0 1409.7 1514.0 1409.8 1516.0 1409.9 1518.0 1410.2 1520.0 1410.4 1522.0 1410.2 1524.0 1410.1 1526.0 1410.3 1528.0 1410.8 1530.0 1411.4 1532.0 1411.1 1534.0 1410.8 1536.0 1410.9 1538.0 1411.4 1540.0 1411.9 1542.0 1411.5 1544.0 1411.0 1546.0 1410.9 1548.0 1410.9 1550.0 1411.0 1552.0 1411.5 1554.0 1412.1 1556.0 1412.4 1558.0 1412.3 1560.0 1412.3 1562.0 1412.6 1564.0 1412.9 1566.0 1413.1 1568.0 1413.2 1570.0 1413.3 1572.0 1413.4 1574.0 1413.6 1576.0 1414.0 1578.0 1414.7 1580.0 1415.3 1582.0 1415.5 1584.0 1415.6 1586.0 1415.6 1588.0 1415.3 1590.0 1415.0 1592.0 1414.5 1594.0 1414.0 1596.0 1414.1 1598.0 1414.9 1600.0 1415.7 1602.0 1414.4 1604.0 1413.0 1606.0 1412.2 1608.0 1412.0 1610.0 1411.8 1612.0 1412.8 1614.0 1413.8 1616.0 1414.2 1618.0 1414.1 1620.0 1414.0 1622.0 1413.9 1624.0 1413.9 1626.0 1413.9 1628.0 1414.0 1630.0 1414.1 1632.0 1413.4 1634.0 1412.7 1636.0 1412.5 1638.0 1412.8 1640.0 1413.0 1642.0 1414.1 1644.0 1415.2 1646.0 1415.7 1648.0 1415.7 1650.0 1415.6 1652.0 1414.9 1654.0 1414.2 1656.0 1414.4 1658.0 1415.7 1660.0 1416.9 1662.0 1415.6 1664.0 1414.3 1666.0 1413.8 1668.0 1414.1 1670.0 1414.3 1672.0 1414.8 1674.0 1415.2 1676.0 1415.1 1678.0 1414.4 1680.0 1413.8 1682.0 1414.2 1684.0 1414.5 1686.0 1414.8 1688.0 1414.9 1690.0 1415.1 1692.0 1415.0 1694.0 1414.9 1696.0 1415.2 1698.0 1415.8 1700.0 1416.4 1702.0 1416.3 1704.0 1416.2 1706.0 1415.8 1708.0 1415.1 1710.0 1414.4 1712.0 1414.6 1714.0 1414.9 1716.0 1415.2 1718.0 1415.7 1720.0 1416.1 1722.0 1416.1 1724.0 1416.1 1726.0 1415.9 1728.0 1415.7 1730.0 1415.5 1732.0 1416.2 1734.0 1416.8 1736.0 1417.3 1738.0 1417.6 1740.0 1418.0 1742.0 1417.5 1744.0 1417.0 1746.0 1417.1 1748.0 1417.9 1750.0 1418.6 1752.0 1417.7 1754.0 1416.8 1756.0 1416.4 1758.0 1416.5 1760.0 1416.7 1762.0 1417.7 1764.0 1418.8 1766.0 1419.0 1768.0 1418.5 1770.0 1418.0 1772.0 1418.0 1774.0 1418.0 1776.0 1418.2 1778.0 1418.5 1780.0 1418.9 1782.0 1418.7 1784.1 1418.6 1786.1 1418.8 1788.1 1419.2 1790.1 1419.6 1792.1 1418.8 1794.2 1418.0 1796.2 1418.0 1798.2 1418.5 1800.2 1419.1 1802.2 1420.6 1804.2 1422.1 1806.2 1421.9 1808.2 1420.5 1810.2 1419.2 1812.2 1418.3 1814.2 1417.4 1816.1 1417.6 1818.1 1418.7 1820.1 1419.7 1822.0 1419.6 1824.1 1419.6 1826.2 1419.7 1828.3 1420.0 1830.3 1420.1 1832.4 1419.5 1834.4 1418.8 1836.4 1418.3 1838.5 1417.8 1840.5 1417.6 1842.5 1418.4 1844.5 1419.2 1846.5 1419.1 1848.5 1418.6 1850.5 1418.0 1852.5 1416.8 1854.6 1415.6 1856.6 1416.1 1858.6 1417.2 1860.7 1417.8 1862.7 1417.3 1864.8 1416.8 1866.9 1417.3 1869.0 1417.9 1870.9 1417.9 1872.9 1417.3 1874.9 1416.8 1876.8 1417.3 1878.8 1417.8 1880.8 1418.1 1882.8 1418.0 1884.8 1417.8 1886.8 1418.1 1888.8 1418.4 1890.8 1418.5 1892.8 1418.4 1894.8 1418.3 1896.8 1418.2 1898.9 1418.2 1900.9 1418.3 1902.9 1418.7 1904.9 1419.1 1906.9 1419.5 1909.0 1419.9 1911.0 1420.1 1913.0 1420.2 1915.0 1420.2 1917.0 1420.9 1919.0 1421.5 1921.0 1421.6 1923.0 1421.2 1925.0 1420.9 1927.0 1421.1 1929.0 1421.3 1931.0 1421.8 1933.0 1422.6 1935.0 1423.4 1937.0 1422.6 1939.0 1421.9 1941.0 1421.7 1943.0 1422.0 1945.0 1422.4 1947.0 1422.0 1949.0 1421.6 1951.0 1421.7 1953.0 1422.1 1955.0 1422.5 1957.0 1423.3 1959.0 1424.1 1961.0 1424.2 1963.0 1423.7 1965.0 1423.2 1967.0 1423.8 1969.0 1424.3 1971.0 1424.1 1973.0 1423.0 1975.0 1421.9 1977.0 1421.8 1979.0 1421.6 1981.0 1421.9 1983.0 1422.6 1985.0 1423.4 1987.0 1422.6 1989.0 1421.8 1991.0 1422.3 1993.0 1424.0 1995.0 1425.8 1997.0 1425.1 1999.0 1424.4 2001.0 1423.5 2003.0 1422.4 2005.0 1421.2 2007.0 1421.7 2009.0 1422.1 2011.0 1422.2 2013.0 1422.0 2015.0 1421.8 2017.0 1422.3 2019.0 1422.7 2021.0 1422.9 2023.0 1422.7 2025.0 1422.5 2027.0 1423.0 2029.0 1423.5 2031.0 1423.9 2033.0 1424.2 2035.0 1424.5 2037.0 1423.8 2039.0 1423.1 2041.0 1422.6 2043.0 1422.2 2045.0 1421.9 2047.0 1422.7 2049.0 1423.6 2051.0 1423.9 2053.0 1423.6 2055.0 1423.4 2057.0 1424.0 2059.0 1424.7 2061.0 1424.7 2063.0 1424.2 2065.0 1423.7 2067.0 1424.2 2069.0 1424.7 2071.0 1424.9 2073.0 1424.7 2075.0 1424.5 2077.0 1424.3 2079.0 1424.1 2081.0 1424.0 2083.0 1423.9 2085.0 1423.8 2087.0 1424.4 2089.0 1424.9 2091.0 1425.6 2093.0 1426.4 2095.0 1427.2 2097.0 1426.5 2099.0 1425.8 2101.0 1425.3 2103.0 1424.9 2105.0 1424.5 2107.0 1424.9 2109.0 1425.3 2111.0 1425.4 2113.0 1425.2 2115.0 1425.0 2117.0 1424.4 2119.0 1423.9 2121.0 1424.0 2123.0 1424.8 2125.0 1425.6 2127.0 1426.2 2129.0 1426.9 2131.0 1426.8 2133.0 1426.1 2135.0 1425.4 2137.0 1425.2 2139.0 1425.0 2141.0 1425.2 2143.0 1426.1 2145.0 1426.9 2147.0 1427.6 2149.0 1428.3 2151.0 1428.5 2153.0 1428.3 2155.0 1428.0 2157.0 1428.1 2159.0 1428.2 2161.0 1428.6 2163.0 1429.3 2165.0 1429.9 2167.0 1429.7 2169.0 1429.4 2171.0 1429.1 2173.0 1428.8 2175.0 1428.4 2177.0 1428.0 2179.0 1427.6 2181.0 1427.5 2183.0 1427.6 2185.0 1427.7 2187.0 1427.6 2189.0 1427.5 2191.0 1427.6 2193.0 1428.0 2195.0 1428.4 2197.0 1427.6 2199.0 1426.8 2201.0 1427.0 2203.0 1428.0 2205.0 1429.1 2207.0 1428.5 2209.0 1427.8 2211.0 1427.4 2213.0 1427.2 2215.0 1427.0 2217.0 1427.6 2219.0 1428.1 2221.0 1427.8 2223.0 1426.6 2225.1 1425.4 2227.1 1426.1 2229.2 1426.7 2231.3 1427.1 2233.4 1427.3 2235.5 1427.6 2237.5 1428.4 2239.6 1429.2 2241.7 1429.0 2243.8 1428.5 2245.8 1428.6 2247.9 1429.6 2249.9 1430.6 2252.0 1429.9 2254.0 1429.2 2255.9 1429.1 2257.9 1429.6 2259.8 1430.2 2261.7 1429.8 2263.6 1429.4 2265.4 1429.3 2267.2 1430.1 2269.0 1430.9 2271.4 1430.9 2273.9 1430.2 2276.3 1430.1 2278.8 1430.5 2281.3 1430.5 2283.7 1429.9 2286.0 1429.5 2288.4 1429.2 2290.6 1429.1 2292.8 1429.5 2294.9 1429.8 2296.9 1430.4 2298.8 1430.9 2300.5 1431.0 2302.1 1430.2 2303.6 1429.6 2304.9 1428.9 2306.0 1428.8" stroke="#0066c0"/>
<path d="M241.0 425.0L241.0 426.0 241.0 427.1 241.0 428.2 241.0 429.4 241.0 430.6 241.1 431.8 241.1 433.1 241.1 434.4 241.1 435.7 241.1 437.1 241.1 438.5 241.1 440.0 241.1 441.5 241.2 443.0 241.2 444.5 241.2 446.1 241.2 447.7 241.2 449.4 241.2 451.1 241.2 452.8 241.3 454.5 241.3 456.3 241.3 458.1 241.3 459.9 241.3 461.8 241.3 463.7 241.4 465.6 241.4 467.5 241.4 469.4 241.4 471.4 241.4 473.4 241.4 475.4 241.5 477.5 241.5 479.5 241.5 481.6 241.5 483.7 241.5 485.8 241.6 488.0 241.6 490.1 241.6 492.3 241.6 494.5 241.6 496.7 241.6 498.9 241.7 501.1 241.7 503.4 241.7 505.6 241.7 507.9 241.7 510.1 241.8 512.4 241.8 514.7 241.8 517.0 241.8 519.3 241.8 521.7 241.9 524.0 241.9 526.3 241.9 528.6 241.9 531.0 241.9 533.3 242.0 535.7 242.0 538.0 242.0 540.4 242.0 542.7 242.0 545.1 242.1 547.4 242.1 549.8 242.1 552.2 242.1 554.5 242.1 556.9 242.2 559.2 242.2 561.5 242.2 563.9 242.2 566.2 242.2 568.5 242.3 570.8 242.3 573.1 242.3 575.4 242.3 577.7 242.3 580.0 242.4 582.3 242.4 584.5 242.4 586.8 242.4 589.0 242.4 591.3 242.4 593.5 242.5 595.7 242.5 597.8 242.5 600.0 242.5 601.9 242.5 603.8 242.5 605.7 242.6 607.6 242.6 609.5 242.6 611.5 242.6 613.5 242.6 615.4 242.6 617.4 242.6 619.4 242.7 621.4 242.7 623.4 242.7 625.5 242.7 627.5 242.7 629.6 242.7 631.6 242.7 633.7 242.8 635.7 242.8 637.8 242.8 639.9 242.8 642.0 242.8 644.1 242.8 646.2 242.8 648.3 242.9 650.5 242.9 652.6 242.9 654.7 242.9 656.9 242.9 659.0 242.9 661.2 242.9 663.3 243.0 665.5 243.0 667.6 243.0 669.8 243.0 671.9 243.0 674.1 243.0 676.3 243.0 678.4 243.1 680.6 243.1 682.8 243.1 684.9 243.1 687.1 243.1 689.3 243.1 691.4 243.1 693.6 243.2 695.8 243.2 697.9 243.2 700.1 243.2 702.2 243.2 704.4 243.2 706.5 243.2 708.7 243.3 710.8 243.3 712.9 243.3 715.1 243.3 717.2 243.3 719.3 243.3 721.4 243.3 723.5 243.4 725.6 243.4 727.7 243.4 729.8 243.4 731.9 243.4 734.0 243.4 736.0 243.5 738.1 243.5 740.1 243.5 742.2 243.5 744.2 243.5 746.2 243.5 748.2 243.5 750.2 243.6 752.2 243.6 754.1 243.6 756.1 243.6 758.0 243.6 760.0 243.6 761.9 243.7 763.8 243.7 765.7 243.7 767.6 243.7 769.4 243.7 771.3 243.7 773.1 243.7 774.9 243.8 776.7 243.8 778.5 243.8 780.3 243.8 782.0 243.8 783.7 243.8 785.4 243.9 787.1 243.9 788.8 243.9 790.5 243.9 792.1 243.9 793.7 243.9 795.3 244.0 796.9 244.0 798.5 244.0 800.0 244.0 802.4 244.1 804.8 244.1 807.3 244.1 809.7 244.1 812.1 244.2 814.5 244.2 816.9 244.2 819.2 244.3 821.6 244.3 824.0 244.3 826.4 244.4 828.7 244.4 831.0 244.4 833.4 244.5 835.7 244.5 838.0 244.6 840.2 244.6 842.5 244.6 844.8 244.7 847.0 244.7 849.2 244.7 851.4 244.8 853.6 244.8 855.7 244.9 857.9 244.9 860.0 244.9 862.1 245.0 864.2 245.0 866.2 245.1 868.2 245.1 870.2 245.1 872.2 245.2 874.2 245.2 876.1 245.3 878.0 245.3 879.8 245.4 881.7 245.4 883.5 245.4 885.2 245.5 887.0 245.5 888.7 245.6 890.3 245.6 892.0 245.7 893.6 245.7 895.1 245.7 896.7 245.8 898.1 245.8 899.6 245.9 901.0 245.9 902.4 246.0 903.7 246.0 905.0 246.1 907.6 246.2 910.2 246.4 912.9 246.5 915.6 246.7 918.2 246.9 920.7 247.1 923.1 247.3 925.3 247.6 927.3 247.8 929.0 248.0 930.4 248.3 931.4 248.5 932.0 248.9 932.0 249.4 931.0 249.9 929.2 250.4 926.7 250.9 923.9 251.3 920.8 251.7 917.8 252.0 915.0 252.1 913.7 252.2 912.3 252.3 910.8 252.4 909.2 252.5 907.5 252.7 905.7 252.8 903.8 252.9 901.9 253.0 899.9 253.1 897.8 253.2 895.7 253.3 893.5 253.4 891.3 253.6 889.1 253.7 886.8 253.8 884.5 253.9 882.2 254.0 879.9 254.1 877.6 254.3 875.3 254.4 873.0 254.5 870.7 254.6 868.4 254.7 866.1 254.8 863.9 255.0 861.7 255.1 859.6 255.2 857.5 255.3 855.5 255.4 853.6 255.5 851.7 255.7 849.9 255.8 848.2 255.9 846.5 256.0 845.0 256.2 842.6 256.4 840.1 256.6 837.6 256.8 835.0 257.1 832.5 257.3 830.0 257.6 827.6 257.8 825.3 258.1 823.0 258.3 820.9 258.6 818.9 258.8 817.1 259.1 815.4 259.3 813.9 259.6 812.7 259.8 811.7 260.0 811.0 260.4 810.4 260.8 811.4 261.2 813.4 261.5 816.1 261.9 819.2 262.4 822.3 263.0 825.0 263.5 826.8 264.1 828.8 264.6 830.9 265.3 833.0 265.9 835.2 266.6 837.4 267.4 839.5 268.2 841.5 269.1 843.4 270.0 845.0 271.5 846.9 273.3 848.3 275.3 849.5 277.2 850.5 279.1 851.7 280.7 853.1 282.0 855.0 282.7 856.6 283.1 858.3 283.5 860.1 283.8 862.0 283.9 864.1 284.1 866.2 284.2 868.3 284.4 870.5 284.7 872.8 285.0 875.0 285.3 876.9 285.7 878.9 286.1 880.9 286.5 882.9 286.9 885.0 287.3 887.1 287.7 889.2 288.2 891.3 288.6 893.5 289.1 895.7 289.5 897.8 290.0 900.0 290.4 902.0 290.8 904.2 291.3 906.4 291.7 908.6 292.1 910.8 292.5 913.1 293.0 915.3 293.4 917.5 293.9 919.6 294.4 921.6 294.9 923.5 295.4 925.3 296.0 927.0 296.9 929.3 297.9 931.4 299.0 933.4 300.2 935.2 301.4 936.9 302.6 938.4 303.8 939.8 305.0 941.0 307.0 942.5 309.0 943.5 311.1 944.2 313.1 944.6 315.0 945.0 317.6 945.4 319.9 945.4 322.5 944.9 324.0 944.5 325.6 943.9 327.4 943.5 329.4 943.0 331.4 942.3 333.5 941.4 335.7 940.4 338.0 939.5 340.2 938.6 342.5 938.5 344.4 938.4 346.4 938.5 348.4 938.7 350.5 939.1 352.6 939.5 354.7 940.0 356.8 938.7 359.0 937.1 361.1 936.4 363.3 936.7 365.4 936.9 367.5 936.7 369.6 936.6 371.7 935.9 373.8 935.1 375.8 934.9 377.9 935.6 380.0 936.3 382.1 936.3 384.2 936.2 386.2 936.8 388.3 937.8 390.4 938.6 392.5 938.0 394.6 937.5 396.7 936.9 398.8 936.3 400.8 936.4 402.9 937.5 405.0 938.6 407.1 938.3 409.2 938.0 411.2 937.6 413.3 937.1 415.4 936.9 417.5 937.7 419.6 938.5 421.7 939.0 423.8 939.4 425.8 939.7 427.9 940.0 430.0 940.3 432.1 941.2 434.2 942.1 436.2 942.1 438.3 941.5 440.4 941.3 442.5 942.6 444.6 943.9 446.7 945.0 448.8 946.0 450.8 946.8 452.9 947.1 455.0 947.5 457.1 948.0 459.2 948.6 461.2 949.0 463.3 949.5 465.4 949.9 467.5 950.4 469.6 951.0 471.7 950.4 473.8 949.5 475.8 949.4 477.9 950.6 480.0 951.7 482.1 950.8 484.2 949.9 486.2 950.0 488.3 951.0 490.4 951.7 492.5 951.6 494.4 951.5 496.3 952.8 498.3 954.6 500.2 956.4 502.1 957.1 504.0 957.9 506.0 958.3 507.9 958.3 509.8 958.4 511.7 959.7 513.7 961.2 515.6 962.1 517.5 961.6 519.6 961.1 521.7 961.7 523.8 962.6 525.8 963.4 527.9 963.9 530.0 964.4 532.1 964.4 534.2 964.4 536.2 965.1 538.3 966.3 540.4 967.5 542.5 968.8 544.4 970.0 546.3 969.9 548.3 969.2 550.2 968.7 552.1 970.1 554.0 971.6 556.0 972.3 557.9 972.5 559.8 972.6 561.7 973.9 563.7 975.3 565.6 976.3 567.5 976.2 569.6 976.2 571.7 976.7 573.8 977.3 575.8 977.9 577.9 978.4 580.0 978.9 582.1 979.2 584.2 979.5 586.2 979.4 588.3 979.1 590.4 979.3 592.5 981.0 594.6 982.7 596.7 982.4 598.8 981.6 600.8 981.6 602.9 982.7 605.0 983.9 607.1 984.5 609.2 985.1 611.2 985.1 613.3 984.8 615.4 984.8 617.5 985.6 619.6 986.4 621.7 987.2 623.8 988.1 625.8 988.4 627.9 988.2 630.0 988.0 632.1 987.9 634.2 987.8 636.2 987.4 638.3 986.8 640.4 986.6 642.5 987.9 644.6 989.1 646.7 989.8 648.8 990.4 650.8 991.0 652.9 991.4 655.0 991.9 657.1 992.1 659.2 992.3 661.2 993.0 663.3 994.1 665.4 994.9 667.5 994.9 669.6 994.9 671.7 995.4 673.8 996.1 675.8 996.9 677.9 997.7 680.0 998.6 682.1 998.3 684.2 998.0 686.2 998.3 688.3 998.9 690.4 999.7 692.5 1001.0 694.6 1002.3 696.7 1002.1 698.8 1001.5 700.8 1000.7 702.9 999.7 705.0 998.6 707.1 999.0 709.2 999.5 711.2 999.9 713.3 1000.2 715.4 1000.5 717.5 1001.0 719.6 1001.5 721.6 1001.5 723.6 1001.3 725.5 1001.2 727.5 1001.3 729.5 1001.4 731.5 1001.7 733.5 1002.0 735.7 1002.7 737.8 1003.9 740.1 1005.1 742.5 1005.5 744.2 1005.9 746.0 1006.1 747.7 1006.4 749.5 1006.6 751.3 1007.2 753.1 1008.0 754.9 1008.8 756.8 1009.3 758.7 1009.9 760.7 1010.6 762.7 1011.8 764.8 1013.0 766.9 1013.0 769.1 1013.0 771.3 1013.6 773.6 1014.7 776.0 1015.6 777.7 1016.1 779.4 1016.5 781.2 1016.7 783.1 1016.8 784.9 1016.9 786.9 1016.6 788.8 1016.3 790.8 1016.6 792.8 1017.7 794.8 1018.9 796.9 1018.4 798.9 1017.7 801.0 1017.7 803.1 1018.4 805.2 1019.0 807.3 1018.7 809.4 1018.3 811.5 1018.1 813.6 1017.8 815.7 1018.1 817.8 1019.2 819.9 1020.4 822.0 1020.7 824.0 1021.0 826.0 1021.2 828.0 1021.4 830.0 1021.5 832.0 1022.0 834.0 1022.5 836.0 1022.7 838.0 1022.6 840.0 1022.6 842.0 1022.9 844.0 1023.2 846.0 1023.7 848.0 1024.3 850.0 1024.9 852.0 1026.2 854.0 1027.5 856.0 1028.0 858.0 1027.9 860.0 1027.8 862.0 1027.6 864.0 1027.4 866.0 1027.8 868.0 1028.6 870.0 1029.5 872.0 1029.4 874.0 1029.3 876.0 1029.5 878.0 1029.9 880.0 1030.3 882.0 1031.2 884.0 1032.2 886.0 1032.6 888.0 1032.4 890.0 1032.2 892.0 1032.1 894.0 1032.0 896.0 1032.4 898.0 1033.1 900.0 1033.9 902.0 1034.7 904.0 1035.6 906.0 1036.2 908.0 1036.7 910.0 1037.1 912.0 1038.0 914.0 1038.9 916.0 1039.1 918.0 1038.6 920.0 1038.1 922.0 1039.1 924.0 1040.1 926.0 1040.7 928.0 1040.9 930.0 1041.2 932.0 1041.2 934.0 1041.3 936.0 1041.7 938.0 1042.4 940.0 1043.2 942.0 1043.3 944.0 1043.5 946.0 1043.4 948.0 1043.1 950.0 1042.8 952.0 1043.9 954.0 1045.0 956.0 1045.2 958.0 1044.5 960.0 1043.8 962.0 1044.6 964.0 1045.5 966.0 1046.0 968.0 1046.3 970.0 1046.6 972.0 1047.1 974.0 1047.6 976.0 1047.7 978.0 1047.5 980.0 1047.3 982.0 1048.0 984.0 1048.6 986.0 1049.1 988.0 1049.4 990.0 1049.6 992.0 1050.5 994.0 1051.3 996.0 1051.5 998.0 1051.1 1000.0 1050.6 1002.0 1051.3 1004.0 1052.1 1006.0 1052.5 1008.0 1052.7 1010.0 1052.9 1012.0 1052.8 1014.0 1052.7 1016.0 1053.7 1018.0 1055.8 1020.0 1057.9 1022.0 1057.0 1024.0 1056.2 1026.0 1055.6 1028.0 1055.3 1030.0 1055.1 1032.0 1056.7 1034.0 1058.4 1036.0 1058.8 1038.0 1058.1 1040.0 1057.4 1042.0 1058.4 1044.0 1059.4 1046.0 1060.2 1048.0 1060.8 1050.0 1061.4 1052.0 1061.1 1054.0 1060.8 1056.0 1060.9 1058.0 1061.4 1060.0 1061.9 1062.0 1062.2 1064.0 1062.5 1066.0 1062.9 1068.0 1063.4 1070.0 1063.9 1072.0 1063.6 1074.0 1063.2 1076.0 1063.3 1078.0 1063.8 1080.0 1064.2 1082.0 1065.0 1084.0 1065.7 1086.0 1066.5 1088.0 1067.3 1090.0 1068.0 1092.0 1068.1 1094.0 1068.1 1096.0 1068.5 1098.0 1069.2 1100.0 1069.9 1102.0 1069.7 1104.0 1069.5 1106.0 1069.2 1108.0 1068.9 1110.0 1068.6 1112.0 1069.0 1114.0 1069.4 1116.0 1069.3 1118.0 1068.6 1120.0 1068.0 1122.0 1068.7 1124.0 1069.5 1126.0 1069.9 1128.0 1070.2 1130.0 1070.4 1132.0 1071.2 1134.0 1072.0 1136.0 1072.6 1138.0 1073.1 1140.0 1073.5 1142.0 1073.2 1144.0 1072.9 1146.0 1072.9 1148.0 1073.1 1150.0 1073.4 1152.0 1073.2 1154.0 1073.1 1156.0 1073.4 1158.0 1074.3 1160.0 1075.2 1162.0 1075.6 1164.0 1076.1 1166.0 1076.4 1168.0 1076.8 1170.0 1077.2 1172.0 1076.9 1174.0 1076.6 1176.0 1077.2 1178.0 1078.7 1180.0 1080.3 1182.0 1080.2 1184.0 1080.1 1186.0 1080.0 1188.0 1079.7 1190.0 1079.4 1192.0 1079.5 1194.0 1079.6 1196.0 1079.9 1198.0 1080.3 1200.0 1080.7 1202.0 1081.2 1204.0 1081.7 1206.0 1082.1 1208.0 1082.3 1210.0 1082.5 1212.0 1083.1 1214.0 1083.6 1216.0 1084.1 1218.0 1084.5 1220.0 1084.9 1222.0 1085.5 1224.0 1086.1 1226.0 1086.5 1228.0 1086.7 1230.0 1086.9 1232.0 1086.6 1234.0 1086.4 1236.1 1086.6 1238.1 1087.1 1240.1 1087.6 1242.1 1087.6 1244.2 1087.6 1246.2 1087.7 1248.2 1088.0 1250.2 1088.4 1252.3 1089.8 1254.3 1091.2 1256.3 1091.3 1258.3 1090.5 1260.3 1090.1 1262.3 1091.5 1264.3 1092.8 1266.3 1092.8 1268.2 1092.1 1270.2 1091.4 1272.1 1092.0 1274.1 1092.4 1276.0 1093.0 1278.1 1093.6 1280.1 1094.1 1282.2 1093.8 1284.2 1093.5 1286.2 1093.5 1288.2 1093.8 1290.2 1094.0 1292.1 1093.9 1294.1 1093.7 1296.1 1093.6 1298.0 1093.6 1300.0 1093.6 1301.9 1093.8 1303.9 1094.0 1305.9 1094.1 1307.8 1094.0 1309.8 1093.9 1311.8 1094.9 1313.8 1096.0 1315.8 1096.4 1317.9 1095.8 1319.9 1095.1 1322.0 1096.1 1323.9 1097.2 1325.9 1097.0 1327.8 1095.3 1329.8 1093.7 1331.7 1094.8 1333.7 1096.2 1335.7 1097.3 1337.7 1097.9 1339.7 1098.4 1341.7 1098.4 1343.7 1098.3 1345.7 1098.6 1347.8 1099.6 1349.8 1100.5 1351.8 1100.7 1353.8 1100.8 1355.9 1100.8 1357.9 1100.7 1359.9 1100.6 1361.9 1101.2 1364.0 1101.8 1366.0 1102.7 1368.0 1104.0 1370.0 1105.3 1372.0 1104.5 1374.0 1103.6 1376.0 1103.3 1378.0 1103.5 1380.0 1103.7 1382.0 1103.6 1384.0 1103.5 1386.0 1103.6 1388.0 1104.1 1390.0 1104.5 1392.0 1104.1 1394.0 1103.7 1396.0 1103.8 1398.0 1104.4 1400.0 1105.1 1402.0 1106.4 1404.0 1107.8 1406.0 1108.3 1408.0 1107.8 1410.0 1107.4 1412.0 1107.4 1414.0 1107.4 1416.0 1107.7 1418.0 1108.1 1420.0 1108.5 1422.0 1109.1 1424.0 1109.6 1426.0 1109.8 1428.0 1109.4 1430.0 1109.1 1432.0 1110.0 1434.0 1110.9 1436.0 1111.3 1438.0 1111.1 1440.0 1110.9 1442.0 1110.7 1444.0 1110.6 1446.0 1111.0 1448.0 1112.0 1450.0 1112.9 1452.0 1111.4 1454.0 1109.9 1456.0 1109.6 1458.0 1110.7 1460.0 1111.7 1462.0 1112.4 1464.0 1113.0 1466.0 1113.2 1468.0 1113.0 1470.0 1112.7 1472.0 1113.3 1474.0 1113.9 1476.0 1114.3 1478.0 1114.4 1480.0 1114.4 1482.0 1114.7 1484.0 1115.0 1486.0 1116.1 1488.0 1117.9 1490.0 1119.7 1492.0 1119.1 1494.0 1118.5 1496.0 1118.2 1498.0 1118.2 1500.0 1118.2 1502.0 1119.1 1504.0 1120.0 1506.0 1120.3 1508.0 1119.8 1510.0 1119.4 1512.0 1120.2 1514.0 1120.9 1516.0 1121.3 1518.0 1121.2 1520.0 1121.2 1522.0 1121.9 1524.0 1122.7 1526.0 1122.4 1528.0 1121.2 1530.0 1120.0 1532.0 1121.0 1534.0 1122.1 1536.0 1122.5 1538.0 1122.2 1540.0 1122.0 1542.0 1121.5 1544.0 1120.9 1546.0 1121.2 1548.0 1122.2 1550.0 1123.2 1552.0 1122.3 1554.0 1121.5 1556.0 1121.7 1558.0 1122.8 1560.0 1123.9 1562.0 1123.5 1564.0 1123.0 1566.0 1122.9 1568.0 1123.0 1570.0 1123.2 1572.0 1123.0 1574.0 1122.8 1576.0 1123.0 1578.0 1123.4 1580.0 1123.9 1582.0 1122.8 1584.0 1121.7 1586.0 1121.7 1588.0 1122.6 1590.0 1123.6 1592.0 1123.5 1594.0 1123.3 1596.0 1123.5 1598.0 1124.0 1600.0 1124.6 1602.0 1124.6 1604.0 1124.6 1606.0 1124.8 1608.0 1125.2 1610.0 1125.7 1612.0 1125.2 1614.0 1124.7 1616.0 1125.2 1618.0 1126.5 1620.0 1127.9 1622.0 1128.2 1624.0 1128.6 1626.0 1128.3 1628.0 1127.4 1630.0 1126.5 1632.0 1126.8 1634.0 1127.1 1636.0 1127.4 1638.0 1127.7 1640.0 1128.0 1642.0 1128.7 1644.0 1129.3 1646.0 1129.9 1648.0 1130.4 1650.0 1130.9 1652.0 1129.7 1654.0 1128.6 1656.0 1128.2 1658.0 1128.7 1660.0 1129.2 1662.0 1129.2 1664.0 1129.2 1666.0 1129.3 1668.0 1129.4 1670.0 1129.6 1672.0 1129.5 1674.0 1129.5 1676.0 1130.0 1678.0 1131.1 1680.0 1132.1 1682.0 1131.6 1684.0 1131.1 1686.0 1131.5 1688.0 1132.9 1690.0 1134.2 1692.0 1134.1 1694.0 1134.0 1696.0 1133.6 1698.0 1133.0 1700.0 1132.3 1702.0 1132.4 1704.0 1132.6 1706.0 1132.8 1708.0 1133.2 1710.0 1133.5 1712.0 1134.5 1714.0 1135.6 1716.0 1135.6 1718.0 1134.8 1720.0 1133.9 1722.0 1133.8 1724.0 1133.6 1726.0 1133.9 1728.0 1134.7 1730.0 1135.4 1732.0 1135.7 1734.0 1136.0 1736.0 1136.0 1738.0 1135.6 1740.0 1135.2 1742.0 1136.3 1744.0 1137.4 1746.0 1137.7 1748.0 1137.2 1750.0 1136.7 1752.0 1136.9 1754.0 1137.0 1756.0 1136.9 1758.0 1136.4 1760.0 1135.9 1762.0 1136.4 1764.0 1136.8 1766.0 1137.1 1768.0 1137.1 1770.0 1137.2 1772.0 1136.4 1774.0 1135.6 1776.0 1135.8 1778.0 1137.1 1780.0 1138.3 1782.0 1137.5 1784.1 1136.8 1786.1 1136.9 1788.1 1137.8 1790.1 1138.7 1792.1 1138.2 1794.2 1137.7 1796.2 1138.5 1798.2 1140.2 1800.2 1141.7 1802.2 1141.1 1804.2 1140.5 1806.2 1140.5 1808.2 1140.9 1810.2 1141.2 1812.2 1141.4 1814.2 1141.5 1816.1 1141.1 1818.1 1140.3 1820.1 1139.4 1822.0 1139.1 1824.1 1138.8 1826.2 1139.2 1828.3 1140.1 1830.3 1141.0 1832.4 1141.6 1834.4 1142.2 1836.4 1142.2 1838.5 1141.8 1840.5 1141.7 1842.5 1142.0 1844.5 1142.3 1846.5 1142.5 1848.5 1142.6 1850.5 1142.4 1852.5 1141.4 1854.6 1140.3 1856.6 1140.8 1858.6 1141.7 1860.7 1142.5 1862.7 1143.4 1864.8 1144.3 1866.9 1143.4 1869.0 1142.4 1870.9 1141.7 1872.9 1141.3 1874.9 1140.9 1876.8 1141.8 1878.8 1142.8 1880.8 1143.5 1882.8 1143.6 1884.8 1143.8 1886.8 1144.4 1888.8 1145.1 1890.8 1145.4 1892.8 1145.1 1894.8 1144.8 1896.8 1145.5 1898.9 1146.2 1900.9 1146.3 1902.9 1145.6 1904.9 1144.9 1906.9 1146.4 1909.0 1148.0 1911.0 1149.2 1913.0 1149.7 1915.0 1150.3 1917.0 1150.4 1919.0 1150.5 1921.0 1150.0 1923.0 1149.0 1925.0 1147.9 1927.0 1148.9 1929.0 1149.8 1931.0 1149.7 1933.0 1148.4 1935.0 1147.1 1937.0 1148.6 1939.0 1150.2 1941.0 1151.0 1943.0 1151.0 1945.0 1150.9 1947.0 1150.6 1949.0 1150.4 1951.0 1150.6 1953.0 1151.3 1955.0 1152.0 1957.0 1152.0 1959.0 1152.0 1961.0 1152.3 1963.0 1152.8 1965.0 1153.3 1967.0 1153.0 1969.0 1152.8 1971.0 1152.8 1973.0 1153.0 1975.0 1153.2 1977.0 1152.4 1979.0 1151.5 1981.0 1151.4 1983.0 1151.8 1985.0 1152.3 1987.0 1152.8 1989.0 1153.2 1991.0 1153.7 1993.0 1154.1 1995.0 1154.6 1997.0 1154.6 1999.0 1154.6 2001.0 1155.0 2003.0 1155.8 2005.0 1156.6 2007.0 1155.7 2009.0 1154.8 2011.0 1154.6 2013.0 1155.0 2015.0 1155.4 2017.0 1155.8 2019.0 1156.2 2021.0 1156.3 2023.0 1156.3 2025.0 1156.2 2027.0 1156.7 2029.0 1157.1 2031.0 1157.2 2033.0 1156.9 2035.0 1156.6 2037.0 1157.6 2039.0 1158.6 2041.0 1158.9 2043.0 1158.2 2045.0 1157.6 2047.0 1158.4 2049.0 1159.2 2051.0 1159.4 2053.0 1159.1 2055.0 1158.8 2057.0 1159.6 2059.0 1160.4 2061.0 1160.3 2063.0 1159.2 2065.0 1158.1 2067.0 1159.1 2069.0 1160.1 2071.0 1160.5 2073.0 1160.3 2075.0 1160.1 2077.0 1160.6 2079.0 1161.0 2081.0 1161.6 2083.0 1162.2 2085.0 1162.8 2087.0 1162.0 2089.0 1161.2 2091.0 1160.8 2093.0 1161.0 2095.0 1161.1 2097.0 1161.4 2099.0 1161.8 2101.0 1162.3 2103.0 1163.1 2105.0 1163.9 2107.0 1163.1 2109.0 1162.4 2111.0 1162.6 2113.0 1163.6 2115.0 1164.7 2117.0 1164.3 2119.0 1163.9 2121.0 1163.8 2123.0 1164.1 2125.0 1164.3 2127.0 1164.9 2129.0 1165.4 2131.0 1166.0 2133.0 1166.5 2135.0 1167.1 2137.0 1166.8 2139.0 1166.6 2141.0 1166.6 2143.0 1166.9 2145.0 1167.1 2147.0 1167.5 2149.0 1167.9 2151.0 1168.2 2153.0 1168.3 2155.0 1168.4 2157.0 1167.5 2159.0 1166.6 2161.0 1166.8 2163.0 1168.0 2165.0 1169.2 2167.0 1169.6 2169.0 1170.0 2171.0 1170.5 2173.0 1171.1 2175.0 1171.7 2177.0 1172.3 2179.0 1172.9 2181.0 1173.0 2183.0 1172.5 2185.0 1172.1 2187.0 1172.0 2189.0 1171.9 2191.0 1171.7 2193.0 1171.4 2195.0 1171.1 2197.0 1171.7 2199.0 1172.4 2201.0 1172.9 2203.0 1173.3 2205.0 1173.8 2207.0 1174.2 2209.0 1174.5 2211.0 1174.3 2213.0 1173.5 2215.0 1172.7 2217.0 1173.4 2219.0 1174.0 2221.0 1174.5 2223.0 1174.9 2225.1 1175.4 2227.1 1176.0 2229.2 1176.6 2231.3 1176.5 2233.4 1175.9 2235.5 1175.4 2237.5 1175.2 2239.6 1175.0 2241.7 1175.0 2243.8 1175.1 2245.8 1175.2 2247.9 1175.5 2249.9 1175.8 2252.0 1175.8 2254.0 1175.8 2255.9 1176.2 2257.9 1177.0 2259.8 1177.7 2261.7 1178.0 2263.6 1178.2 2265.4 1178.4 2267.2 1178.4 2269.0 1178.4 2271.4 1178.6 2273.9 1179.0 2276.3 1178.8 2278.8 1178.1 2281.3 1178.1 2283.7 1178.7 2286.0 1178.9 2288.4 1178.7 2290.6 1178.6 2292.8 1179.0 2294.9 1179.3 2296.9 1179.9 2298.8 1180.5 2300.5 1180.8 2302.1 1180.5 2303.6 1180.2 2304.9 1179.9 2306.0 1179.6" stroke="#00a843"/>
<path d="M238.0 1250.0L238.5 1400.0 242.0 1530.0 242.5 1544.0 256.0 1544.0 256.0 1580.0 266.5 1580.0 267.5 1400.0 267.5 1399.0 267.5 1398.0 267.5 1396.9 267.5 1395.8 267.5 1394.7 267.6 1393.6 267.6 1392.4 267.6 1391.2 267.6 1390.0 267.6 1388.8 267.6 1387.5 267.6 1386.3 267.6 1385.0 267.6 1383.7 267.6 1382.3 267.7 1381.0 267.7 1379.6 267.7 1378.2 267.7 1376.8 267.7 1375.3 267.7 1373.9 267.7 1372.4 267.7 1370.9 267.8 1369.4 267.8 1367.8 267.8 1366.3 267.8 1364.7 267.8 1363.1 267.8 1361.5 267.8 1359.8 267.8 1358.2 267.9 1356.5 267.9 1354.8 267.9 1353.1 267.9 1351.4 267.9 1349.7 267.9 1347.9 267.9 1346.1 268.0 1344.4 268.0 1342.6 268.0 1340.7 268.0 1338.9 268.0 1337.1 268.0 1335.2 268.1 1333.3 268.1 1331.4 268.1 1329.5 268.1 1327.6 268.1 1325.7 268.1 1323.7 268.1 1321.7 268.2 1319.8 268.2 1317.8 268.2 1315.8 268.2 1313.8 268.2 1311.7 268.2 1309.7 268.3 1307.7 268.3 1305.6 268.3 1303.5 268.3 1301.4 268.3 1299.3 268.3 1297.2 268.4 1295.1 268.4 1293.0 268.4 1290.9 268.4 1288.7 268.4 1286.6 268.5 1284.4 268.5 1282.2 268.5 1280.1 268.5 1277.9 268.5 1275.7 268.5 1273.5 268.6 1271.2 268.6 1269.0 268.6 1266.8 268.6 1264.6 268.6 1262.3 268.7 1260.1 268.7 1257.8 268.7 1255.6 268.7 1253.3 268.7 1251.0 268.7 1248.7 268.8 1246.5 268.8 1244.2 268.8 1241.9 268.8 1239.6 268.8 1237.3 268.9 1235.0 268.9 1232.7 268.9 1230.4 268.9 1228.0 268.9 1225.7 269.0 1223.4 269.0 1221.1 269.0 1218.7 269.0 1216.4 269.0 1214.1 269.1 1211.7 269.1 1209.4 269.1 1207.1 269.1 1204.7 269.1 1202.4 269.2 1200.1 269.2 1197.7 269.2 1195.4 269.2 1193.0 269.2 1190.7 269.3 1188.4 269.3 1186.0 269.3 1183.7 269.3 1181.3 269.3 1179.0 269.3 1176.7 269.4 1174.3 269.4 1172.0 269.4 1169.7 269.4 1167.4 269.4 1165.0 269.5 1162.7 269.5 1160.4 269.5 1158.1 269.5 1155.8 269.5 1153.5 269.6 1151.2 269.6 1148.9 269.6 1146.6 269.6 1144.3 269.6 1142.0 269.7 1139.8 269.7 1137.5 269.7 1135.2 269.7 1133.0 269.7 1130.7 269.8 1128.5 269.8 1126.2 269.8 1124.0 269.8 1121.8 269.8 1119.6 269.9 1117.4 269.9 1115.2 269.9 1113.0 269.9 1110.8 269.9 1108.6 269.9 1106.4 270.0 1104.3 270.0 1102.1 270.0 1100.0 270.0 1098.1 270.0 1096.2 270.0 1094.3 270.1 1092.4 270.1 1090.4 270.1 1088.5 270.1 1086.5 270.1 1084.6 270.1 1082.6 270.2 1080.6 270.2 1078.6 270.2 1076.6 270.2 1074.6 270.2 1072.5 270.3 1070.5 270.3 1068.4 270.3 1066.4 270.3 1064.3 270.3 1062.2 270.3 1060.1 270.4 1058.0 270.4 1055.9 270.4 1053.8 270.4 1051.7 270.4 1049.6 270.4 1047.4 270.5 1045.3 270.5 1043.1 270.5 1041.0 270.5 1038.8 270.5 1036.7 270.6 1034.5 270.6 1032.3 270.6 1030.1 270.6 1027.9 270.6 1025.7 270.6 1023.5 270.7 1021.3 270.7 1019.1 270.7 1016.9 270.7 1014.6 270.7 1012.4 270.8 1010.2 270.8 1007.9 270.8 1005.7 270.8 1003.5 270.8 1001.2 270.9 999.0 270.9 996.7 270.9 994.4 270.9 992.2 270.9 989.9 270.9 987.7 271.0 985.4 271.0 983.1 271.0 980.8 271.0 978.6 271.0 976.3 271.1 974.0 271.1 971.8 271.1 969.5 271.1 967.2 271.1 964.9 271.2 962.6 271.2 960.4 271.2 958.1 271.2 955.8 271.2 953.5 271.3 951.3 271.3 949.0 271.3 946.7 271.3 944.4 271.3 942.2 271.4 939.9 271.4 937.6 271.4 935.4 271.4 933.1 271.4 930.9 271.4 928.6 271.5 926.3 271.5 924.1 271.5 921.8 271.5 919.6 271.5 917.4 271.6 915.1 271.6 912.9 271.6 910.7 271.6 908.4 271.6 906.2 271.7 904.0 271.7 901.8 271.7 899.6 271.7 897.4 271.7 895.2 271.8 893.0 271.8 890.8 271.8 888.7 271.8 886.5 271.8 884.3 271.8 882.2 271.9 880.0 271.9 877.9 271.9 875.8 271.9 873.6 271.9 871.5 272.0 869.4 272.0 867.3 272.0 865.2 272.0 863.1 272.0 861.1 272.1 859.0 272.1 856.9 272.1 854.9 272.1 852.9 272.1 850.8 272.1 848.8 272.2 846.8 272.2 844.8 272.2 842.8 272.2 840.9 272.2 838.9 272.2 836.9 272.3 835.0 272.3 833.1 272.3 831.1 272.3 829.2 272.3 827.3 272.4 825.5 272.4 823.6 272.4 821.7 272.4 819.9 272.4 818.0 272.4 816.2 272.5 814.4 272.5 812.6 272.5 810.8 272.5 809.1 272.5 807.3 272.5 805.6 272.6 803.9 272.6 802.2 272.6 800.5 272.6 798.8 272.6 797.1 272.6 795.5 272.7 793.9 272.7 792.3 272.7 790.7 272.7 789.1 272.7 787.5 272.7 786.0 272.7 784.4 272.8 782.9 272.8 781.4 272.8 779.9 272.8 778.5 272.8 777.0 272.8 775.6 272.8 774.2 272.9 772.8 272.9 771.5 272.9 770.1 272.9 768.8 272.9 767.5 272.9 766.2 272.9 764.9 273.0 763.6 273.0 762.4 273.0 761.2 273.0 760.0 273.0 757.6 273.1 755.1 273.1 752.5 273.1 749.9 273.2 747.2 273.2 744.6 273.2 741.9 273.3 739.2 273.3 736.5 273.4 733.8 273.4 731.1 273.5 728.5 273.5 725.9 273.6 723.4 273.6 720.9 273.7 718.5 273.7 716.2 273.8 714.0 273.9 711.8 273.9 709.8 274.0 707.9 274.0 706.2 274.1 704.6 274.1 703.1 274.2 701.8 274.2 700.7 274.3 699.8 274.3 699.0 274.4 698.5 274.5 698.1 274.5 698.0 274.5 698.1 274.6 698.5 274.6 699.0 274.7 699.8 274.7 700.7 274.8 701.8 274.8 703.1 274.9 704.6 274.9 706.2 275.0 707.9 275.0 709.8 275.1 711.8 275.1 714.0 275.2 716.2 275.2 718.5 275.2 720.9 275.3 723.4 275.3 725.9 275.4 728.5 275.4 731.1 275.5 733.8 275.5 736.5 275.6 739.2 275.6 741.9 275.7 744.6 275.7 747.2 275.8 749.9 275.8 752.5 275.9 755.1 275.9 757.6 276.0 760.0 276.0 761.7 276.1 763.4 276.1 765.2 276.2 767.0 276.2 768.8 276.2 770.7 276.3 772.5 276.3 774.4 276.4 776.4 276.4 778.3 276.5 780.3 276.5 782.3 276.5 784.3 276.6 786.3 276.6 788.3 276.7 790.3 276.7 792.4 276.8 794.5 276.8 796.5 276.9 798.6 276.9 800.7 276.9 802.8 277.0 804.9 277.0 807.0 277.1 809.1 277.1 811.3 277.2 813.4 277.2 815.5 277.3 817.6 277.3 819.7 277.4 821.8 277.4 823.9 277.5 826.0 277.5 828.1 277.5 830.1 277.6 832.2 277.6 834.2 277.7 836.3 277.7 838.3 277.8 840.3 277.8 842.3 277.9 844.2 277.9 846.2 278.0 848.1 278.0 850.0 278.0 852.1 278.1 854.3 278.1 856.4 278.2 858.6 278.2 860.8 278.3 863.0 278.3 865.2 278.4 867.4 278.4 869.6 278.5 871.8 278.5 874.0 278.5 876.2 278.6 878.3 278.6 880.5 278.7 882.7 278.7 884.9 278.7 887.0 278.8 889.2 278.8 891.3 278.9 893.4 278.9 895.5 279.0 897.6 279.0 899.7 279.1 901.7 279.1 903.7 279.2 905.7 279.2 907.7 279.3 909.6 279.3 911.5 279.4 913.4 279.4 915.2 279.5 917.0 279.5 918.8 279.6 920.5 279.7 922.2 279.7 923.9 279.8 925.5 279.9 927.0 279.9 928.5 280.0 930.0 280.1 932.5 280.3 934.8 280.5 937.2 280.7 939.4 280.9 941.7 281.1 943.8 281.3 945.9 281.5 948.0 281.8 950.0 282.0 952.0 282.3 954.0 282.6 955.9 282.8 957.8 283.1 959.6 283.4 961.4 283.7 963.2 284.0 965.0 284.4 967.5 284.9 969.8 285.4 972.1 285.9 974.3 286.4 976.5 286.9 978.6 287.4 980.6 287.9 982.6 288.5 984.5 289.0 986.4 289.5 988.2 290.0 990.0 290.7 992.3 291.3 994.6 292.0 996.7 292.7 998.8 293.3 1000.8 294.0 1002.7 294.7 1004.5 295.3 1006.3 296.0 1008.0 297.0 1010.4 297.9 1012.7 298.9 1014.8 299.9 1016.7 300.9 1018.5 302.0 1020.0 303.9 1021.8 305.9 1023.2 308.0 1024.2 310.0 1025.0 312.4 1025.7 314.8 1025.9 317.5 1026.0 319.2 1026.1 321.2 1026.4 323.4 1026.6 325.8 1026.7 328.2 1027.2 330.6 1027.5 332.9 1026.9 335.0 1026.1 337.3 1027.2 339.5 1028.6 341.6 1028.0 343.7 1026.6 345.8 1026.0 347.9 1026.6 350.0 1027.3 352.1 1028.3 354.3 1029.5 356.4 1030.3 358.6 1030.8 360.7 1031.1 362.9 1030.7 365.0 1030.4 366.8 1031.6 368.6 1032.8 370.3 1034.1 372.1 1035.6 373.9 1037.1 375.8 1038.6 377.8 1039.9 380.0 1041.3 381.7 1041.4 383.6 1041.5 385.5 1041.5 387.6 1041.5 389.7 1041.5 391.9 1042.5 394.1 1043.5 396.3 1043.8 398.5 1043.5 400.7 1043.7 402.9 1045.1 405.0 1046.6 406.9 1046.4 408.8 1046.3 410.8 1046.8 412.7 1048.1 414.6 1049.4 416.5 1050.2 418.5 1050.9 420.4 1051.7 422.3 1052.8 424.2 1053.9 426.2 1054.4 428.1 1054.6 430.0 1054.7 432.1 1055.9 434.2 1057.1 436.2 1057.5 438.3 1057.3 440.4 1057.3 442.5 1058.2 444.6 1059.0 446.7 1059.5 448.8 1059.8 450.8 1059.7 452.9 1058.8 455.0 1058.0 457.1 1059.2 459.2 1060.4 461.2 1061.1 463.3 1061.4 465.4 1061.7 467.5 1061.6 469.6 1061.5 471.7 1062.1 473.8 1062.9 475.8 1063.2 477.9 1062.8 480.0 1062.4 482.1 1063.7 484.2 1065.0 486.2 1065.7 488.3 1066.0 490.4 1066.4 492.5 1066.7 494.6 1067.0 496.7 1068.2 498.8 1069.6 500.8 1070.3 502.9 1069.8 505.0 1069.4 506.9 1069.8 508.8 1070.3 510.8 1070.7 512.7 1071.1 514.6 1071.4 516.5 1072.4 518.5 1073.6 520.4 1074.5 522.3 1074.7 524.2 1074.8 526.2 1075.8 528.1 1077.4 530.0 1078.9 532.1 1078.6 534.2 1078.2 536.2 1078.6 538.3 1079.4 540.4 1080.3 542.5 1081.5 544.6 1082.8 546.7 1083.1 548.8 1083.1 550.8 1083.1 552.9 1083.2 555.0 1083.3 557.1 1084.3 559.2 1085.4 561.2 1085.8 563.3 1085.7 565.4 1085.9 567.5 1086.9 569.6 1087.9 571.7 1088.3 573.8 1088.5 575.8 1088.7 577.9 1088.9 580.0 1089.0 582.1 1090.2 584.2 1091.3 586.2 1092.2 588.3 1092.9 590.4 1093.5 592.5 1093.4 594.6 1093.3 596.7 1093.4 598.8 1093.5 600.8 1093.9 602.9 1094.7 605.0 1095.4 607.1 1095.1 609.2 1094.7 611.2 1095.3 613.3 1096.6 615.4 1097.7 617.5 1098.0 619.6 1098.3 621.7 1099.9 623.8 1101.8 625.8 1102.7 627.9 1102.0 630.0 1101.4 632.1 1101.5 634.2 1101.6 636.2 1102.7 638.3 1104.4 640.4 1105.8 642.5 1105.9 644.6 1106.0 646.7 1106.6 648.8 1107.3 650.8 1108.0 652.9 1108.6 655.0 1109.2 657.1 1109.8 659.2 1110.3 661.3 1110.6 663.4 1110.9 665.5 1111.3 667.7 1112.4 669.8 1113.5 671.9 1113.9 673.9 1114.2 676.0 1114.4 678.0 1114.4 680.0 1114.5 682.2 1115.2 684.4 1115.9 686.7 1116.2 688.9 1116.3 691.1 1117.0 693.3 1118.1 695.4 1119.2 697.4 1119.9 699.2 1120.6 701.0 1121.2 702.5 1121.8 704.7 1122.8 706.4 1124.1 708.0 1125.4 709.8 1126.6 712.0 1127.4 713.4 1127.6 715.0 1127.8 716.7 1129.0 718.5 1130.2 720.5 1131.1 722.5 1130.9 724.7 1130.6 726.8 1131.2 729.1 1131.8 731.3 1132.3 733.6 1132.7 735.9 1133.2 738.1 1133.9 740.3 1134.6 742.5 1134.9 744.4 1135.2 746.2 1136.1 748.1 1137.4 749.9 1138.7 751.7 1138.5 753.6 1138.1 755.4 1137.8 757.3 1137.2 759.2 1136.7 761.1 1136.9 763.1 1137.8 765.1 1138.6 767.1 1138.5 769.2 1138.4 771.4 1139.4 773.7 1140.9 776.0 1142.1 777.7 1142.6 779.4 1143.1 781.2 1143.0 783.1 1142.6 784.9 1142.2 786.9 1142.9 788.8 1143.7 790.8 1144.2 792.8 1144.3 794.8 1144.3 796.9 1144.9 798.9 1145.5 801.0 1146.3 803.1 1147.3 805.2 1148.2 807.3 1147.6 809.4 1147.0 811.5 1146.8 813.6 1146.8 815.7 1147.2 817.8 1148.5 819.9 1149.7 822.0 1150.0 824.0 1150.3 826.0 1150.6 828.0 1151.0 830.0 1151.4 832.0 1151.9 834.0 1152.3 836.0 1152.3 838.0 1151.9 840.0 1151.4 842.0 1151.1 844.0 1150.8 846.0 1151.5 848.0 1153.1 850.0 1154.7 852.0 1154.3 854.0 1154.0 856.0 1153.8 858.0 1153.7 860.0 1153.6 862.0 1153.9 864.0 1154.3 866.0 1155.1 868.0 1156.4 870.0 1157.7 872.0 1157.6 874.0 1157.6 876.0 1157.7 878.0 1158.1 880.0 1158.6 882.0 1159.2 884.0 1159.8 886.0 1160.0 888.0 1159.7 890.0 1159.5 892.0 1159.7 894.0 1159.9 896.0 1160.3 898.0 1160.9 900.0 1161.4 902.0 1161.7 904.0 1162.0 906.0 1162.6 908.0 1163.4 910.0 1164.2 912.0 1164.3 914.0 1164.4 916.0 1164.9 918.0 1165.7 920.0 1166.5 922.0 1166.6 924.0 1166.7 926.0 1167.1 928.0 1167.6 930.0 1168.0 932.0 1168.7 934.0 1169.3 936.0 1169.9 938.0 1170.5 940.0 1171.1 942.0 1171.4 944.0 1171.8 946.0 1171.7 948.0 1171.3 950.0 1170.9 952.0 1171.2 954.0 1171.5 956.0 1171.6 958.0 1171.5 960.0 1171.4 962.0 1172.3 964.0 1173.3 966.0 1173.9 968.0 1174.4 970.0 1174.9 972.0 1174.2 974.0 1173.5 976.0 1173.6 978.0 1174.5 980.0 1175.4 982.0 1175.2 984.0 1175.0 986.0 1175.0 988.0 1175.4 990.0 1175.7 992.0 1176.1 994.0 1176.6 996.0 1176.8 998.0 1176.8 1000.0 1176.8 1002.0 1177.7 1004.0 1178.5 1006.0 1178.6 1008.0 1177.8 1010.0 1177.0 1012.0 1177.7 1014.0 1178.3 1016.0 1178.9 1018.0 1179.4 1020.0 1180.0 1022.0 1179.9 1024.0 1179.8 1026.0 1180.2 1028.0 1181.1 1030.0 1182.0 1032.0 1181.5 1034.0 1181.0 1036.0 1181.2 1038.0 1182.3 1040.0 1183.3 1042.0 1183.0 1044.0 1182.6 1046.0 1182.9 1048.0 1183.8 1050.0 1184.7 1052.0 1185.4 1054.0 1186.0 1056.0 1186.8 1058.0 1187.9 1060.0 1189.0 1062.0 1188.8 1064.0 1188.6 1066.0 1188.8 1068.0 1189.4 1070.0 1189.9 1072.0 1189.5 1074.0 1189.1 1076.0 1189.5 1078.0 1190.7 1080.0 1191.9 1082.0 1191.1 1084.0 1190.3 1086.0 1190.0 1088.0 1190.3 1090.0 1190.5 1092.0 1190.3 1094.0 1190.1 1096.0 1190.4 1098.0 1191.3 1100.0 1192.2 1102.0 1192.8 1104.0 1193.3 1106.0 1193.4 1108.0 1192.9 1110.0 1192.3 1112.0 1192.7 1114.0 1193.0 1116.0 1193.3 1118.0 1193.5 1120.0 1193.7 1122.0 1194.0 1124.0 1194.3 1126.0 1194.6 1128.0 1194.7 1130.0 1194.9 1132.0 1194.9 1134.0 1194.8 1136.0 1195.5 1138.0 1197.0 1140.0 1198.5 1142.0 1197.4 1144.0 1196.2 1146.0 1196.0 1148.0 1196.8 1150.0 1197.5 1152.0 1198.4 1154.0 1199.3 1156.0 1200.0 1158.0 1200.6 1160.0 1201.2 1162.0 1201.0 1164.0 1200.8 1166.0 1200.8 1168.0 1201.1 1170.0 1201.3 1172.0 1201.8 1174.0 1202.2 1176.0 1202.5 1178.0 1202.6 1180.0 1202.8 1182.0 1203.5 1184.0 1204.3 1186.0 1204.5 1188.0 1204.2 1190.0 1203.9 1192.0 1203.9 1194.0 1204.0 1196.0 1204.2 1198.0 1204.7 1200.0 1205.2 1202.0 1205.7 1204.0 1206.2 1206.0 1206.8 1208.0 1207.6 1210.0 1208.3 1212.0 1208.8 1214.0 1209.2 1216.0 1209.1 1218.0 1208.4 1220.0 1207.8 1222.0 1207.6 1224.0 1207.4 1226.0 1207.4 1228.0 1207.7 1230.0 1208.0 1232.0 1209.8 1234.0 1211.6 1236.1 1212.0 1238.1 1211.1 1240.1 1210.3 1242.1 1210.9 1244.2 1211.5 1246.2 1212.3 1248.2 1213.2 1250.2 1213.9 1252.3 1213.0 1254.3 1212.1 1256.3 1212.0 1258.3 1212.5 1260.3 1212.9 1262.3 1212.9 1264.3 1213.0 1266.3 1213.0 1268.2 1213.0 1270.2 1213.2 1272.1 1214.2 1274.1 1215.3 1276.0 1215.9 1278.1 1216.3 1280.1 1216.6 1282.2 1215.6 1284.2 1214.5 1286.2 1215.0 1288.2 1216.6 1290.2 1218.0 1292.1 1217.7 1294.1 1217.5 1296.1 1217.6 1298.0 1218.1 1300.0 1218.5 1301.9 1218.8 1303.9 1219.1 1305.9 1219.1 1307.8 1218.7 1309.8 1218.3 1311.8 1218.9 1313.8 1219.5 1315.8 1219.9 1317.9 1219.8 1319.9 1219.7 1322.0 1221.2 1323.9 1222.6 1325.9 1223.5 1327.8 1223.8 1329.8 1224.0 1331.7 1223.4 1333.7 1222.6 1335.7 1221.9 1337.7 1221.5 1339.7 1221.0 1341.7 1221.9 1343.7 1223.0 1345.7 1223.6 1347.8 1223.1 1349.8 1222.6 1351.8 1223.4 1353.8 1224.3 1355.9 1225.0 1357.9 1225.2 1359.9 1225.4 1361.9 1225.4 1364.0 1225.3 1366.0 1225.0 1368.0 1224.2 1370.0 1223.4 1372.0 1223.3 1374.0 1223.2 1376.0 1223.3 1378.0 1223.6 1380.0 1224.0 1382.0 1224.4 1384.0 1224.9 1386.0 1225.0 1388.0 1224.9 1390.0 1224.7 1392.0 1225.8 1394.0 1227.0 1396.0 1227.6 1398.0 1227.5 1400.0 1227.5 1402.0 1227.4 1404.0 1227.3 1406.0 1227.3 1408.0 1227.4 1410.0 1227.4 1412.0 1228.1 1414.0 1228.7 1416.0 1229.3 1418.0 1229.8 1420.0 1230.3 1422.0 1229.1 1424.0 1227.8 1426.0 1227.7 1428.0 1228.8 1430.0 1229.9 1432.0 1229.8 1434.0 1229.7 1436.0 1229.7 1438.0 1229.6 1440.0 1229.6 1442.0 1229.9 1444.0 1230.2 1446.0 1230.5 1448.0 1230.8 1450.0 1231.2 1452.0 1232.1 1454.0 1233.0 1456.0 1233.1 1458.0 1232.4 1460.0 1231.8 1462.0 1231.7 1464.0 1231.6 1466.0 1231.4 1468.0 1231.2 1470.0 1231.0 1472.0 1232.0 1474.0 1233.0 1476.0 1233.3 1478.0 1232.8 1480.0 1232.2 1482.0 1232.6 1484.0 1233.0 1486.0 1233.5 1488.0 1234.0 1490.0 1234.5 1492.0 1234.3 1494.0 1234.2 1496.0 1234.1 1498.0 1234.0 1500.0 1233.9 1502.0 1234.2 1504.0 1234.4 1506.0 1234.8 1508.0 1235.4 1510.0 1236.0 1512.0 1235.8 1514.0 1235.5 1516.0 1235.5 1518.0 1235.8 1520.0 1236.1 1522.0 1236.3 1524.0 1236.6 1526.0 1236.7 1528.0 1236.5 1530.0 1236.4 1532.0 1236.9 1534.0 1237.4 1536.0 1237.6 1538.0 1237.5 1540.0 1237.5 1542.0 1238.3 1544.0 1239.1 1546.0 1239.5 1548.0 1239.5 1550.0 1239.4 1552.0 1238.6 1554.0 1237.9 1556.0 1237.9 1558.0 1238.8 1560.0 1239.7 1562.0 1240.5 1564.0 1241.2 1566.0 1241.4 1568.0 1241.0 1570.0 1240.6 1572.0 1240.7 1574.0 1240.7 1576.0 1241.2 1578.0 1241.9 1580.0 1242.7 1582.0 1241.9 1584.0 1241.1 1586.0 1241.0 1588.0 1241.7 1590.0 1242.3 1592.0 1242.6 1594.0 1243.0 1596.0 1243.2 1598.0 1243.5 1600.0 1243.7 1602.0 1243.0 1604.0 1242.2 1606.0 1241.9 1608.0 1241.9 1610.0 1241.9 1612.0 1243.2 1614.0 1244.6 1616.0 1244.8 1618.0 1243.9 1620.0 1243.0 1622.0 1243.4 1624.0 1243.9 1626.0 1244.7 1628.0 1246.0 1630.0 1247.2 1632.0 1246.1 1634.0 1244.9 1636.0 1244.0 1638.0 1243.4 1640.0 1242.8 1642.0 1245.1 1644.0 1247.5 1646.0 1248.3 1648.0 1247.7 1650.0 1247.0 1652.0 1246.9 1654.0 1246.8 1656.0 1247.3 1658.0 1248.5 1660.0 1249.7 1662.0 1248.6 1664.0 1247.5 1666.0 1247.3 1668.0 1248.1 1670.0 1249.0 1672.0 1248.5 1674.0 1248.0 1676.0 1247.7 1678.0 1247.7 1680.0 1247.8 1682.0 1248.3 1684.0 1248.8 1686.0 1249.2 1688.0 1249.5 1690.0 1249.8 1692.0 1250.1 1694.0 1250.4 1696.0 1250.6 1698.0 1250.7 1700.0 1250.8 1702.0 1250.2 1704.0 1249.6 1706.0 1249.5 1708.0 1249.8 1710.0 1250.1 1712.0 1251.1 1714.0 1252.2 1716.0 1252.4 1718.0 1252.0 1720.0 1251.5 1722.0 1251.4 1724.0 1251.3 1726.0 1251.6 1728.0 1252.3 1730.0 1253.0 1732.0 1253.1 1734.0 1253.2 1736.0 1253.3 1738.0 1253.4 1740.0 1253.5 1742.0 1252.8 1744.0 1252.0 1746.0 1251.8 1748.0 1252.0 1750.0 1252.1 1752.0 1252.8 1754.0 1253.4 1756.0 1253.8 1758.0 1254.1 1760.0 1254.5 1762.0 1253.5 1764.0 1252.6 1766.0 1252.4 1768.0 1252.9 1770.0 1253.3 1772.0 1253.6 1774.0 1253.9 1776.0 1254.4 1778.0 1255.1 1780.0 1255.8 1782.0 1255.1 1784.1 1254.4 1786.1 1255.1 1788.1 1257.0 1790.1 1258.7 1792.1 1257.8 1794.2 1256.9 1796.2 1256.7 1798.2 1257.2 1800.2 1257.7 1802.2 1258.7 1804.2 1259.6 1806.2 1259.6 1808.2 1259.2 1810.2 1258.7 1812.2 1259.0 1814.2 1259.2 1816.1 1259.2 1818.1 1258.9 1820.1 1258.7 1822.0 1259.1 1824.1 1259.5 1826.2 1259.4 1828.3 1258.7 1830.3 1258.3 1832.4 1258.8 1834.4 1259.3 1836.4 1259.5 1838.5 1259.6 1840.5 1259.6 1842.5 1259.1 1844.5 1258.7 1846.5 1259.2 1848.5 1260.1 1850.5 1260.7 1852.5 1260.5 1854.6 1260.3 1856.6 1259.4 1858.6 1258.4 1860.7 1258.1 1862.7 1259.4 1864.8 1260.6 1866.9 1260.1 1869.0 1259.4 1870.9 1259.4 1872.9 1260.1 1874.9 1260.8 1876.8 1260.4 1878.8 1259.9 1880.8 1259.7 1882.8 1260.0 1884.8 1260.2 1886.8 1260.7 1888.8 1261.1 1890.8 1261.7 1892.8 1262.5 1894.8 1263.2 1896.8 1262.0 1898.9 1260.6 1900.9 1260.0 1902.9 1260.7 1904.9 1261.3 1906.9 1261.4 1909.0 1261.5 1911.0 1262.0 1913.0 1262.7 1915.0 1263.5 1917.0 1263.0 1919.0 1262.5 1921.0 1262.5 1923.0 1262.9 1925.0 1263.3 1927.0 1263.9 1929.0 1264.4 1931.0 1264.6 1933.0 1264.5 1935.0 1264.4 1937.0 1264.0 1939.0 1263.6 1941.0 1263.5 1943.0 1263.6 1945.0 1263.8 1947.0 1264.0 1949.0 1264.2 1951.0 1264.5 1953.0 1264.8 1955.0 1265.1 1957.0 1264.8 1959.0 1264.5 1961.0 1264.6 1963.0 1265.1 1965.0 1265.7 1967.0 1266.1 1969.0 1266.5 1971.0 1266.6 1973.0 1266.3 1975.0 1266.0 1977.0 1266.1 1979.0 1266.3 1981.0 1266.6 1983.0 1267.2 1985.0 1267.7 1987.0 1268.1 1989.0 1268.5 1991.0 1268.3 1993.0 1267.5 1995.0 1266.8 1997.0 1267.1 1999.0 1267.4 2001.0 1268.2 2003.0 1269.3 2005.0 1270.5 2007.0 1270.1 2009.0 1269.7 2011.0 1269.3 2013.0 1268.9 2015.0 1268.6 2017.0 1269.2 2019.0 1269.9 2021.0 1270.6 2023.0 1271.3 2025.0 1272.0 2027.0 1271.1 2029.0 1270.2 2031.0 1269.6 2033.0 1269.5 2035.0 1269.4 2037.0 1269.7 2039.0 1270.0 2041.0 1270.6 2043.0 1271.4 2045.0 1272.3 2047.0 1271.3 2049.0 1270.3 2051.0 1270.1 2053.0 1270.6 2055.0 1271.2 2057.0 1271.4 2059.0 1271.7 2061.0 1271.7 2063.0 1271.6 2065.0 1271.5 2067.0 1271.2 2069.0 1270.8 2071.0 1271.0 2073.0 1271.5 2075.0 1272.1 2077.0 1272.0 2079.0 1271.9 2081.0 1272.1 2083.0 1272.6 2085.0 1273.0 2087.0 1273.0 2089.0 1273.0 2091.0 1273.0 2093.0 1273.1 2095.0 1273.2 2097.0 1272.5 2099.0 1271.9 2101.0 1272.2 2103.0 1273.4 2105.0 1274.6 2107.0 1274.5 2109.0 1274.3 2111.0 1273.9 2113.0 1273.2 2115.0 1272.4 2117.0 1273.5 2119.0 1274.5 2121.0 1275.2 2123.0 1275.4 2125.0 1275.7 2127.0 1275.6 2129.0 1275.6 2131.0 1275.1 2133.0 1274.1 2135.0 1273.2 2137.0 1274.1 2139.0 1274.9 2141.0 1275.4 2143.0 1275.3 2145.0 1275.3 2147.0 1275.7 2149.0 1276.1 2151.0 1275.9 2153.0 1275.1 2155.0 1274.3 2157.0 1275.5 2159.0 1276.8 2161.0 1277.5 2163.0 1277.7 2165.0 1277.9 2167.0 1278.0 2169.0 1278.1 2171.0 1278.1 2173.0 1277.9 2175.0 1277.7 2177.0 1277.8 2179.0 1277.9 2181.0 1278.2 2183.0 1278.8 2185.0 1279.4 2187.0 1279.3 2189.0 1279.1 2191.0 1278.9 2193.0 1278.6 2195.0 1278.3 2197.0 1278.8 2199.0 1279.2 2201.0 1279.5 2203.0 1279.8 2205.0 1280.1 2207.0 1280.4 2209.0 1280.7 2211.0 1280.8 2213.0 1280.5 2215.0 1280.3 2217.0 1279.9 2219.0 1279.4 2221.0 1279.3 2223.0 1279.5 2225.1 1279.8 2227.1 1280.2 2229.2 1280.6 2231.3 1280.9 2233.4 1281.0 2235.5 1281.2 2237.5 1281.6 2239.6 1282.1 2241.7 1281.1 2243.8 1279.9 2245.8 1279.5 2247.9 1280.1 2249.9 1280.7 2252.0 1280.6 2254.0 1280.5 2255.9 1281.0 2257.9 1282.1 2259.8 1283.1 2261.7 1283.2 2263.6 1283.1 2265.4 1283.1 2267.2 1283.0 2269.0 1283.0 2271.4 1283.2 2273.9 1283.6 2276.3 1283.4 2278.8 1282.9 2281.3 1283.0 2283.7 1283.7 2286.0 1284.1 2288.4 1284.0 2290.6 1284.0 2292.8 1284.2 2294.9 1284.3 2296.9 1284.4 2298.8 1284.4 2300.5 1284.6 2302.1 1285.1 2303.6 1285.6 2304.9 1286.0 2306.0 1286.1" stroke="#000000"/>
</g>
<rect x="237.7" y="1535" width="24" height="19" fill="#000"/>
<rect x="240.8" y="55.7" width="2068.6" height="1524.3" fill="none" stroke="#000" stroke-width="7" stroke-linejoin="round"/>
<text x="189" y="70.7" text-anchor="end" font-family="'Liberation Serif', serif" font-size="57" fill="#111">1</text>
<text x="189" y="375.6" text-anchor="end" font-family="'Liberation Serif', serif" font-size="57" fill="#111" textLength="69" lengthAdjust="spacingAndGlyphs">0.8</text>
<text x="189" y="680.4" text-anchor="end" font-family="'Liberation Serif', serif" font-size="57" fill="#111" textLength="69" lengthAdjust="spacingAndGlyphs">0.6</text>
<text x="189" y="985.3" text-anchor="end" font-family="'Liberation Serif', serif" font-size="57" fill="#111" textLength="69" lengthAdjust="spacingAndGlyphs">0.4</text>
<text x="189" y="1290.1" text-anchor="end" font-family="'Liberation Serif', serif" font-size="57" fill="#111" textLength="69" lengthAdjust="spacingAndGlyphs">0.2</text>
<text x="189" y="1595.0" text-anchor="end" font-family="'Liberation Serif', serif" font-size="57" fill="#111">0</text>
<text x="241.2" y="1672.5" text-anchor="middle" font-family="'Liberation Serif', serif" font-size="57" fill="#111" textLength="81" lengthAdjust="spacingAndGlyphs">245</text>
<text x="532.5" y="1672.5" text-anchor="middle" font-family="'Liberation Serif', serif" font-size="57" fill="#111" textLength="81" lengthAdjust="spacingAndGlyphs">295</text>
<text x="823.8" y="1672.5" text-anchor="middle" font-family="'Liberation Serif', serif" font-size="57" fill="#111" textLength="81" lengthAdjust="spacingAndGlyphs">345</text>
<text x="1115.1" y="1672.5" text-anchor="middle" font-family="'Liberation Serif', serif" font-size="57" fill="#111" textLength="81" lengthAdjust="spacingAndGlyphs">395</text>
<text x="1406.4" y="1672.5" text-anchor="middle" font-family="'Liberation Serif', serif" font-size="57" fill="#111" textLength="81" lengthAdjust="spacingAndGlyphs">445</text>
<text x="1697.7" y="1672.5" text-anchor="middle" font-family="'Liberation Serif', serif" font-size="57" fill="#111" textLength="81" lengthAdjust="spacingAndGlyphs">495</text>
<text x="1989.0" y="1672.5" text-anchor="middle" font-family="'Liberation Serif', serif" font-size="57" fill="#111" textLength="81" lengthAdjust="spacingAndGlyphs">545</text>
<text x="2280.3" y="1672.5" text-anchor="middle" font-family="'Liberation Serif', serif" font-size="57" fill="#111" textLength="81" lengthAdjust="spacingAndGlyphs">595</text>
<text x="973.8" y="1785.7" font-family="'Liberation Serif', serif" font-size="81" font-weight="bold" textLength="420" lengthAdjust="spacingAndGlyphs">Wavelength</text>
<text x="1406.8" y="1785.7" font-family="'Liberation Serif', serif" font-size="81" font-weight="bold" textLength="165" lengthAdjust="spacingAndGlyphs">(nm)</text>
<text transform="translate(85,1029) rotate(-90)" x="0" y="0" font-family="'Liberation Serif', serif" font-size="81" font-weight="bold" textLength="420" lengthAdjust="spacingAndGlyphs">Absorbance</text>
<text x="923.4" y="184.5" font-family="'Liberation Serif', serif" font-size="68" font-weight="bold" textLength="524" lengthAdjust="spacingAndGlyphs">GO + Gob Extract</text>
<text x="1777.8" y="176.7" font-family="'Liberation Serif', serif" font-size="62" font-weight="bold" fill="#000" textLength="153.2" lengthAdjust="spacingAndGlyphs">a)GO</text>
<text x="1776.7" y="245.4" font-family="'Liberation Serif', serif" font-size="62" font-weight="bold" fill="#00a843" textLength="388" lengthAdjust="spacingAndGlyphs">e)RGO-GOB1</text>
<text x="1777" y="318.6" font-family="'Liberation Serif', serif" font-size="62" font-weight="bold" fill="#ff0000" textLength="382" lengthAdjust="spacingAndGlyphs">f)RGO-GOB2</text>
<text x="1777" y="390.7" font-family="'Liberation Serif', serif" font-size="62" font-weight="bold" fill="#0066c0" textLength="392" lengthAdjust="spacingAndGlyphs">g)RGO-GOB3</text>
</svg>
</body></html>
